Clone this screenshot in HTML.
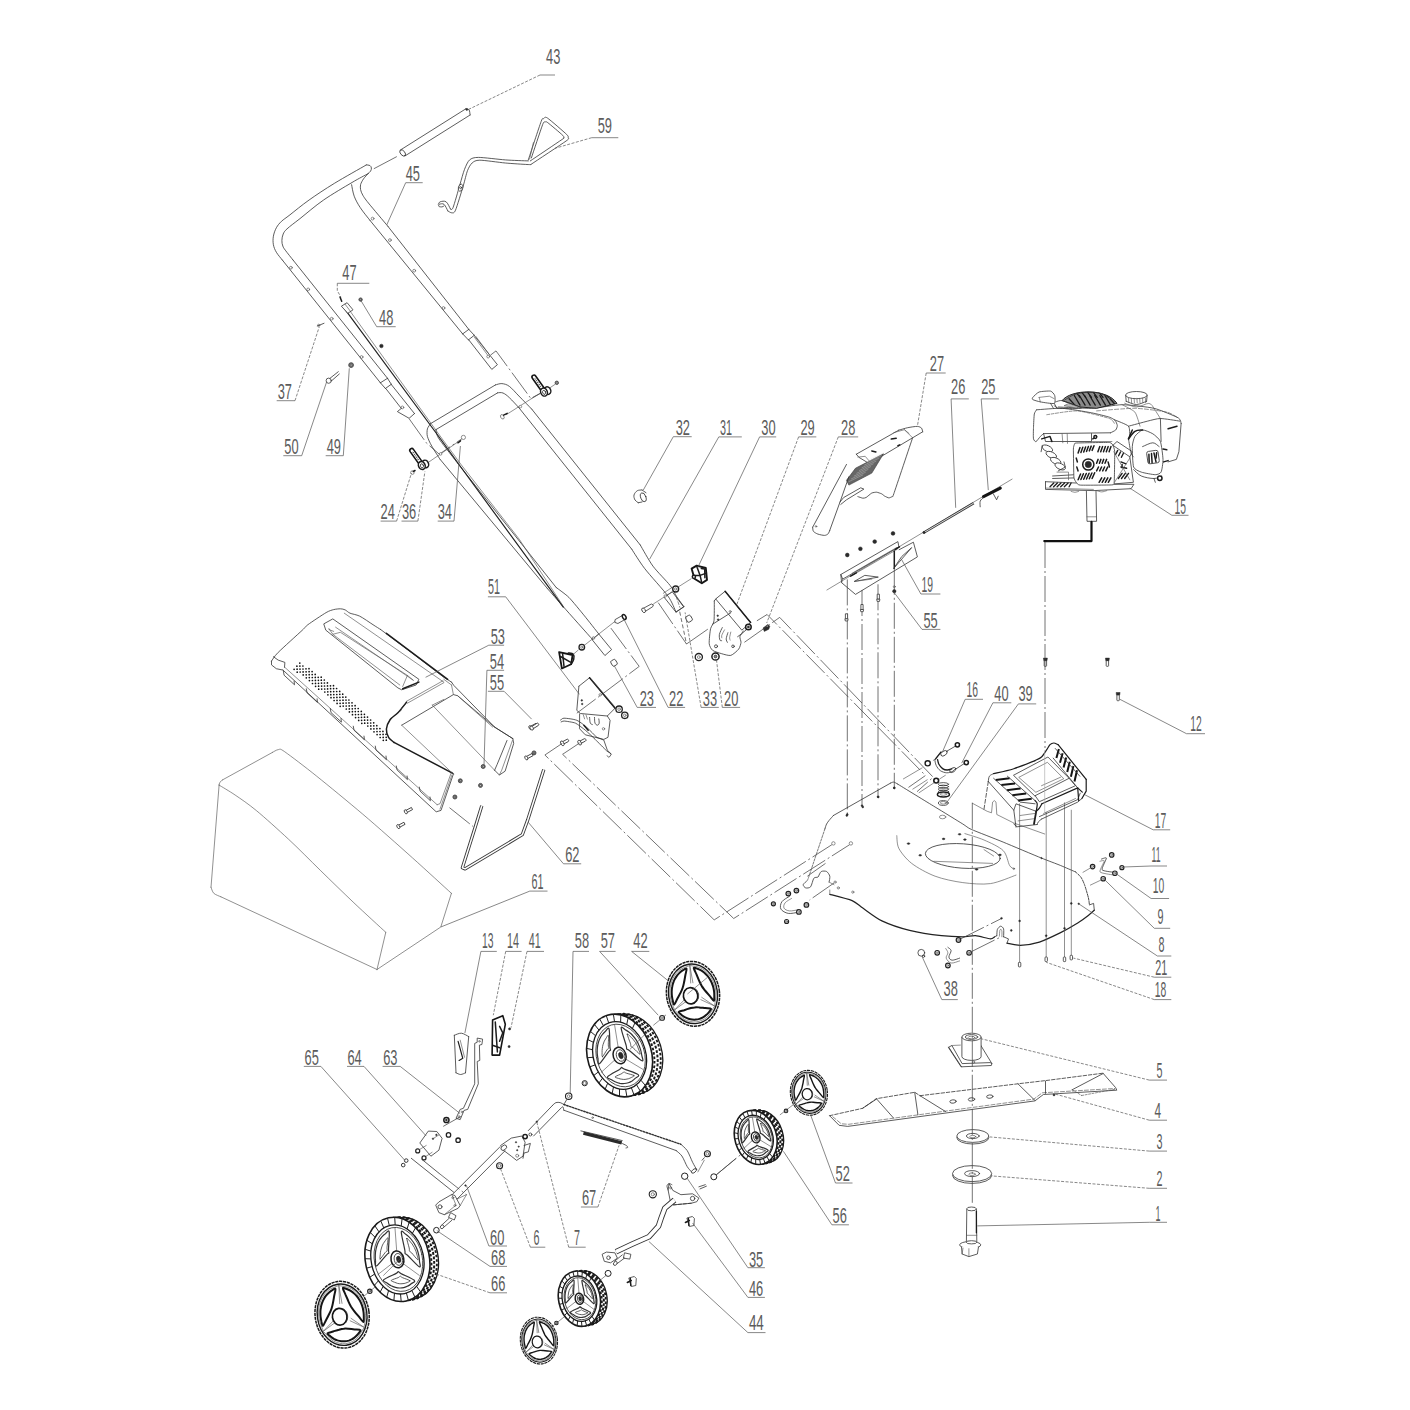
<!DOCTYPE html>
<html><head><meta charset="utf-8"><title>Exploded view</title>
<style>
html,body{margin:0;padding:0;background:#fff;}
svg{display:block;font-family:"Liberation Sans",sans-serif;}
.l{fill:none;stroke:#333;stroke-width:.8;stroke-linecap:round;stroke-linejoin:round}
.t{fill:none;stroke:#555;stroke-width:.65;stroke-linecap:round;stroke-linejoin:round}
.k{fill:none;stroke:#1c1c1c;stroke-width:1.5;stroke-linecap:round;stroke-linejoin:round}
.d{fill:none;stroke:#444;stroke-width:.75;stroke-dasharray:26 3 2 3}
.ld{fill:none;stroke:#555;stroke-width:.7}
.w{fill:#fff;stroke:#333;stroke-width:.8;stroke-linejoin:round}
.wt{fill:#fff;stroke:#555;stroke-width:.65;stroke-linejoin:round}
.wk{fill:#fff;stroke:#1c1c1c;stroke-width:1.5;stroke-linejoin:round}
.f{fill:#2a2a2a;stroke:#2a2a2a;stroke-width:.5;stroke-linejoin:round}
.g{fill:#888;stroke:#333;stroke-width:.8}
.n{fill:#5c5c5c;stroke:none;font-size:22px;font-family:"Liberation Sans",sans-serif}
</style></head><body>
<svg width="1410" height="1410" viewBox="0 0 1410 1410">
<rect width="1410" height="1410" fill="#fff"/>
<!-- upper handle 45 -->
<path class="l" d="M368,173.7 C367.3,174.5 364.6,177.3 363.5,178.9 C362.4,180.5 361,183 360.6,184.6 C360.2,186.2 360.3,188 360.6,189.6 C360.9,191.2 361.6,193.2 362.8,195.2 C364,197.2 364.6,198.3 368.4,203 C372.2,207.7 385,222.8 387.9,226.3"/>
<path class="l" d="M387.9,226.3 L468.8,329.4"/>
<path class="l" d="M351.6,184.7 C352,186.6 352.8,192.4 354.2,196.2 C355.6,200 357.7,203.7 360.3,207.7 C362.9,211.7 368.4,218.3 370,220.4"/>
<path class="l" d="M370,220.4 L462.7,333.9"/>
<path class="l" d="M462.7,333.9 L468.8,329.4"/>
<path class="l" d="M468.4,339.9 L474.3,335.3"/>
<path class="l" d="M462.7,333.9 L468.4,339.9"/>
<path class="l" d="M468.8,329.4 L474.3,335.3"/>
<path class="l" d="M468.8,339.9 L491.8,369.4 L497.4,364.7 L474.3,335.6"/>
<path class="t" d="M474.5,337.4 L487.5,354.9"/>
<path class="t" d="M475.9,336.5 L488.9,354"/>
<circle class="t" cx="488.2" cy="356.6" r="1.4"/>
<path class="d" d="M490.4,355.2 L496,350.9 L530.8,398.4 L540,393.5"/>
<circle class="t" cx="372.6" cy="218.6" r="1.4"/>
<circle class="t" cx="389.9" cy="240.1" r="1.4"/>
<circle class="t" cx="414.2" cy="270.7" r="1.4"/>
<circle class="t" cx="443.5" cy="308" r="1.4"/>
<path class="l" d="M366.2,165 C360.9,168.1 343.8,177.6 334.3,183.4 C324.8,189.2 316.5,194.8 309.1,200 C301.7,205.2 294.6,211.2 290,214.8 C285.4,218.4 283.8,219.2 281.5,221.3 C279.2,223.5 277.8,225.2 276.4,227.7 C275,230.2 273.9,233.4 273.4,236.2 C272.9,239 272.9,242 273.4,244.7 C273.9,247.4 274.9,249.8 276.4,252.3 C277.9,254.9 281.3,258.7 282.3,260"/>
<path class="l" d="M282.3,260 L380.4,382.8"/>
<path class="l" d="M368,173.7 C365.3,175.2 359.4,178.1 352,182.5 C344.6,186.9 332.3,194 323.6,200 C314.9,206 306.1,213.8 300,218.6 C293.9,223.4 289.8,226.3 287,228.9 C284.2,231.5 284.1,232.1 283.2,234 C282.3,235.9 282,238.4 281.9,240.4 C281.8,242.4 282.2,244.4 282.8,246 C283.4,247.6 283.6,247.9 285.3,250.2 C287,252.5 291.7,258.4 293,260"/>
<path class="l" d="M293,260 L387.5,378.3"/>
<path class="l" d="M366.3,164.9 C366.9,165 369,165 369.9,165.5 C370.8,166 371.3,167.1 371.4,168 C371.5,168.9 371.2,170.2 370.6,171.1 C370,172 368.4,173.3 368,173.7"/>
<path class="l" d="M380.4,382.8 L387.5,378.3"/>
<path class="l" d="M385.4,388.5 L391.3,384.3"/>
<path class="l" d="M380.4,382.8 L385.4,388.5"/>
<path class="l" d="M387.5,378.3 L391.3,384.3"/>
<path class="l" d="M386,388.8 L401.3,408.4"/>
<path class="l" d="M391.3,384.5 L414.5,413.6"/>
<path class="l" d="M401.3,408.4 L397.4,411.6 L409.1,418.3 L414.5,413.6"/>
<circle class="t" cx="402.4" cy="407.4" r="1.4"/>
<path class="d" d="M409.1,418.7 L426.5,443.1 L439.3,454.2 L463.4,437.7"/>
<circle class="t" cx="290.9" cy="267.7" r="1.4"/>
<circle class="t" cx="308.2" cy="289.4" r="1.4"/>
<circle class="t" cx="331.7" cy="318.7" r="1.4"/>
<circle class="t" cx="361.6" cy="357" r="1.4"/>
<!-- grip 43 -->
<path class="l" d="M400.1,150.2 L465.7,108.9"/>
<path class="l" d="M405.2,155.8 L470.1,115"/>
<ellipse class="l" cx="402.7" cy="153" rx="3.6" ry="2.2" transform="rotate(50 402.7 153)"/>
<path class="l" d="M465.7,108.9 C466.3,109.1 468.4,108.9 469.1,109.9 C469.8,110.9 469.9,114.2 470.1,115"/>
<circle class="f" cx="466.8" cy="109.4" r="1"/>
<path class="d" d="M396.8,156.6 L372.6,169.4"/>
<!-- bail 59 -->
<path class="l" d="M528.3,159.9 C529.8,155.4 539.3,126.4 541.1,121.6 C542.9,116.8 542.9,119 543.6,118.6 C544.3,118.2 544.7,116.2 547.4,118 C550.1,119.8 564.2,132.1 566.6,134.4 C569,136.7 568.2,137.2 568.1,138 C568,138.8 570.5,137.9 566.1,141 C561.7,144.1 534.9,161.8 530.8,164.5"/>
<path class="l" d="M531.4,157.9 C532.7,154 541,128.9 542.6,124.7 C544.2,120.5 544.5,122.3 545.1,122.1 C545.7,121.9 545.6,121 547.7,122.6 C549.8,124.2 561,133.6 562.8,135.4 C564.6,137.2 563.6,137.5 563.5,138 C563.4,138.5 565.9,136.8 562,139.5 C558.1,142.2 534,158.4 530.3,160.9"/>
<path class="l" d="M530.8,164.5 C530.3,164.5 530.4,164.7 527,164.5 C523.6,164.3 511.6,163.6 505.3,163 C499,162.4 484.2,160.2 479.8,160.2 C475.4,160.2 473.7,161.6 472.1,163 C470.5,164.4 468.7,167.5 467.5,170.6 C466.3,173.7 464.8,180.7 463.2,186 C461.6,191.3 457,206.6 455.5,210.2 C454,213.8 452.7,212.7 451.7,212.8 C450.7,212.9 448.4,211.2 447.9,211"/>
<path class="l" d="M528.3,160.9 C525.2,160.8 511.9,160.4 505.3,159.9 C498.7,159.4 483.3,157.4 478.5,157.4 C473.7,157.4 471.5,158.3 469.6,159.9 C467.7,161.5 465.8,166.1 464.5,169.4 C463.2,172.7 461.4,179.6 459.9,184.7 C458.4,189.8 454.3,204.5 453,207.7 C451.7,210.9 450.7,208.7 450.4,208.9"/>
<path class="l" d="M447.9,211 C447.2,209.9 445.4,205.4 444,204.3 C442.6,203.2 440.2,204 439.4,204.3 C438.5,204.7 438.5,206 438.9,206.4 C439.3,206.8 441.1,207 442,206.9 C442.9,206.8 443.7,206.1 444,205.9"/>
<path class="l" d="M450.4,208.9 C449.7,207.7 447.8,203 446.1,201.8 C444.4,200.6 441.5,201.4 440.2,201.8 C438.9,202.2 438.7,203.9 438.4,204.3"/>
<ellipse class="w" cx="460.6" cy="187.7" rx="2.2" ry="3.6" transform="rotate(15 460.6 187.7)"/>
<circle class="l" cx="460.6" cy="187.7" r="1"/>
<path class="t" d="M533.4,142.6 L529.6,159.1"/>
<!-- lower handle 31 -->
<path class="l" d="M430.6,423.6 L495.5,384.9"/>
<path class="l" d="M495.5,384.9 C496.6,384.7 499.6,383.4 501.9,383.6 C504.2,383.9 506.6,384.3 509.4,386.4 C512.2,388.5 515.2,392.2 518.9,396 C522.6,399.8 529.6,406.9 531.7,409.1"/>
<path class="l" d="M531.7,409.1 L640.2,544.9"/>
<path class="l" d="M640.2,544.9 C641.9,547.7 649,560.8 653,566.2 C657,571.6 666.8,581.2 670,585.3 C673.2,589.4 674.8,593.8 676.7,596.7 C678.6,599.6 683,605.4 684,606.7"/>
<path class="l" d="M436,429.6 L497.7,392.8"/>
<path class="l" d="M497.7,392.8 C498.6,392.8 501.1,392.2 503,393 C504.9,393.8 506.8,395.2 509.4,397.7 C512,400.1 517.3,406 518.9,407.7"/>
<path class="l" d="M518.9,407.7 L631.7,549.1"/>
<path class="l" d="M631.7,549.1 C633.4,551.7 639.7,562 644.5,568.3 C649.3,574.6 663.7,590.2 667.9,596 C672.1,601.8 674.9,609.9 676,612"/>
<path class="l" d="M684,606.7 L676,612"/>
<path class="t" d="M663.3,593.3 L670.7,588.3"/>
<path class="l" d="M430.6,423.6 C430.2,424.3 427.8,427.2 427.4,428.9 C427,430.6 426.8,434.1 427.4,436.4 C428,438.7 430,443 431.7,446 C433.4,449 438.8,457.4 439.9,459.1"/>
<path class="l" d="M436,429.6 C436.1,430.2 436.2,432.8 436.8,434.3 C437.4,435.8 437.3,436.6 440.2,440.6 C443.1,444.6 455.9,461 458.3,464.1"/>
<path class="l" d="M439.9,459.1 L547.7,588.9"/>
<path class="l" d="M547.7,588.9 C549.3,590.7 558.8,601.7 563.3,606.7 C567.8,611.8 589.5,636.1 592.4,639.4"/>
<path class="l" d="M458.3,464.1 L556.2,587.5"/>
<path class="l" d="M556.2,587.5 C557.5,588.5 566.1,594.6 568.9,597.4 C571.7,600.2 581.5,612.2 584.5,615.9 C587.5,619.6 597.4,632.2 598.8,634"/>
<path class="l" d="M592.4,639.4 L598.8,634 L611.6,649.6 L605.2,655.3Z"/>
<path class="l" d="M345,309.3 L441.3,440 L459.7,465.5 L563.3,607.1" style="stroke-width:1.2;stroke:#222"/>
<path class="t" d="M347.3,307.3 L443,440 L461.4,465 L519.3,539.3 L562.6,605.2"/>
<!-- handle small parts -->
<g transform="translate(421.8 465.5)">
<path d="M-10,-15 L-1.5,-3" stroke="#151515" stroke-width="5.6" stroke-linecap="round" fill="none"/>
<path d="M-10,-15 L-2.5,-4.5" stroke="#fff" stroke-width="2.4" stroke-linecap="round" fill="none"/>
<path d="M-9,-13.6 L-3,-5" stroke="#151515" stroke-width="1" stroke-dasharray="1.2 1" fill="none"/>
<ellipse cx="3.5" cy="-1.5" rx="3.2" ry="3.9" transform="rotate(-25 3.5 -1.5)" class="wk"/>
<ellipse cx="0" cy="0" rx="3.3" ry="4.1" transform="rotate(-25)" class="wk"/>
<ellipse cx="0" cy="0.3" rx="1.5" ry="2.1" transform="rotate(-25)" class="l"/>
</g>
<path class="t" d="M429.2,461.8 L457,442.6"/>
<circle class="wt" cx="440.6" cy="453.9" r="1.3"/>
<circle class="wt" cx="463.4" cy="437.4" r="2.1"/>
<path class="k" d="M460.5,440.8 L457.9,442.8"/>
<circle class="wt" cx="412.4" cy="472.6" r="1.8"/>
<path class="k" d="M413.3,471.5 L415,470.5"/>
<g transform="translate(544 392.1)">
<path d="M-10,-15 L-1.5,-3" stroke="#151515" stroke-width="5.6" stroke-linecap="round" fill="none"/>
<path d="M-10,-15 L-2.5,-4.5" stroke="#fff" stroke-width="2.4" stroke-linecap="round" fill="none"/>
<path d="M-9,-13.6 L-3,-5" stroke="#151515" stroke-width="1" stroke-dasharray="1.2 1" fill="none"/>
<ellipse cx="3.5" cy="-1.5" rx="3.2" ry="3.9" transform="rotate(-25 3.5 -1.5)" class="wk"/>
<ellipse cx="0" cy="0" rx="3.3" ry="4.1" transform="rotate(-25)" class="wk"/>
<ellipse cx="0" cy="0.3" rx="1.5" ry="2.1" transform="rotate(-25)" class="l"/>
</g>
<path class="t" d="M549.8,387.9 L555.1,384.3"/>
<circle class="g" cx="556.8" cy="382.8" r="1.7"/>
<path class="d" d="M531.7,398.5 L540.2,393.4"/>
<path class="t" d="M506.2,414.7 L531.7,398.5"/>
<circle class="wt" cx="520.4" cy="406.6" r="1.3"/>
<ellipse class="wt" cx="502.3" cy="416.8" rx="1.6" ry="2.4" transform="rotate(-30 502.3 416.8)"/>
<path class="k" d="M503.6,415.1 L507.2,413.4"/>
<path class="w" d="M341.4,306.2 L347.1,302.7 L353,309.8 L347.8,313.3Z"/>
<path class="t" d="M345,304.1 L350.6,311.5"/>
<path class="k" d="M340,297 L341.7,301.3"/>
<circle class="g" cx="360.6" cy="299.6" r="1.7"/>
<circle class="w" cx="360.6" cy="299.6" r="0.8"/>
<circle class="f" cx="381.4" cy="346" r="1.8"/>
<circle class="g" cx="351.1" cy="365.1" r="2.4"/>
<circle class="w" cx="351.1" cy="365.1" r="1.1"/>
<path class="l" d="M317.3,326 L324,323.3"/>
<circle class="t" cx="318.7" cy="325.3" r="1.1"/>
<circle class="l" cx="328.7" cy="380.7" r="2.6"/>
<path class="l" d="M330,378.3 L338.3,371.7"/>
<path class="l" d="M331.7,380.7 L339.3,374"/>
<path class="l" d="M642,490 C641.2,490.1 638.6,489.9 637.3,490.7 C636,491.5 634.4,493.4 634,495 C633.6,496.6 634.3,498.7 635,500 C635.7,501.3 637.8,502.2 638.3,502.7"/>
<ellipse class="l" cx="643.3" cy="497.3" rx="2.6" ry="4.6" transform="rotate(-20 643.3 497.3)"/>
<path class="l" d="M642,490 L646,492.7"/>
<path class="l" d="M638.3,502.7 L642,502"/>
<!-- labels handle -->
<text class="n" x="546" y="64" textLength="14.3" lengthAdjust="spacingAndGlyphs">43</text>
<path class="ld" d="M540,75 H555"/>
<path class="ld" d="M540,75 L467.3,110" stroke-dasharray="3 1.5"/>
<text class="n" x="597.7" y="132.7" textLength="14.3" lengthAdjust="spacingAndGlyphs">59</text>
<path class="ld" d="M591.7,137.7 H618.3"/>
<path class="ld" d="M591.7,137.7 L555,148.3" stroke-dasharray="3 1.5"/>
<text class="n" x="405.7" y="181" textLength="14.3" lengthAdjust="spacingAndGlyphs">45</text>
<path class="ld" d="M405.7,182.7 H422.7"/>
<path class="ld" d="M405.7,182.7 L386.7,225"/>
<text class="n" x="342.3" y="280" textLength="14.3" lengthAdjust="spacingAndGlyphs">47</text>
<path class="ld" d="M337.3,283.3 H369.3"/>
<path class="ld" d="M337.3,283.3 L337.3,290.7 L341,297.3" stroke-dasharray="3 1.5"/>
<text class="n" x="379" y="325" textLength="14.3" lengthAdjust="spacingAndGlyphs">48</text>
<path class="ld" d="M376.7,326.7 H395.7"/>
<path class="ld" d="M376.7,326.7 L361,300.7"/>
<text class="n" x="277.7" y="399.3" textLength="14.3" lengthAdjust="spacingAndGlyphs">37</text>
<path class="ld" d="M276.7,400.7 H295"/>
<path class="ld" d="M295,400.7 L319.3,326.7" stroke-dasharray="3 1.5"/>
<text class="n" x="284.3" y="454" textLength="14.3" lengthAdjust="spacingAndGlyphs">50</text>
<path class="ld" d="M283.3,455.7 H301.7"/>
<path class="ld" d="M301.7,455.7 L326.7,381.7"/>
<text class="n" x="326.7" y="454" textLength="14.3" lengthAdjust="spacingAndGlyphs">49</text>
<path class="ld" d="M325.7,455.7 H343.3"/>
<path class="ld" d="M343.3,455.7 L349.3,368.3"/>
<text class="n" x="675.7" y="435" textLength="14.3" lengthAdjust="spacingAndGlyphs">32</text>
<path class="ld" d="M673.3,436.7 H691.7"/>
<path class="ld" d="M673.3,436.7 L643.3,490"/>
<text class="n" x="380.6" y="518.9" textLength="14.3" lengthAdjust="spacingAndGlyphs">24</text>
<path class="ld" d="M380.6,521.1 H396.6"/>
<path class="ld" d="M396.6,521.1 L411.5,473" stroke-dasharray="3 1.5"/>
<text class="n" x="401.9" y="518.9" textLength="14.3" lengthAdjust="spacingAndGlyphs">36</text>
<path class="ld" d="M401.5,521.1 H417.9"/>
<path class="ld" d="M417.9,521.1 L424.9,471.5" stroke-dasharray="3 1.5"/>
<text class="n" x="437.7" y="518.9" textLength="14.3" lengthAdjust="spacingAndGlyphs">34</text>
<path class="ld" d="M437.7,521.1 H454"/>
<path class="ld" d="M454,521.1 L460.4,446"/>
<!-- bag 61 -->
<path class="t" d="M219.1,785.1 C219.2,784.6 219.3,783.2 219.9,782.3 C220.5,781.4 222.2,780.2 222.7,779.8"/>
<path class="t" d="M222.7,779.8 L272.3,752.5"/>
<path class="t" d="M272.3,752.5 C273.2,752.1 276.5,749.7 278.4,749.6 C280.3,749.5 279.1,747.8 284.8,751.8 C290.5,755.8 305,766.8 316.7,776.2 C328.4,785.6 348.4,802 362.8,814.2 C377.2,826.4 399.1,845.9 412.4,857.8 C425.7,869.7 445.5,888 451.4,893.3"/>
<path class="t" d="M451.4,893.3 L440.8,927 L377,969.5"/>
<path class="t" d="M377,969.5 L220.9,896.8"/>
<path class="t" d="M220.9,896.8 C219.7,896.2 215.5,894.9 213.8,893.3 C212.2,891.7 211.5,888.2 211,887.2"/>
<path class="t" d="M211,887.2 L219.1,785.1"/>
<path class="t" d="M219.1,785.1 C221.5,786.6 229.5,791.2 235.1,795 C240.7,798.8 248.4,804 256.4,810.6 C264.4,817.2 278.7,830.1 288.3,839 C297.9,847.9 310.4,860.6 320.2,870.2 C330,879.8 344.1,893.5 353.9,902.8 C363.7,912.1 381,927.9 385.8,932.3"/>
<path class="t" d="M385.8,932.3 L377,969.5"/>
<!-- cover 53 -->
<path class="l" d="M271.5,661.1 C272.4,659.9 274.1,656.5 278.2,652.4 C282.3,648.3 298.1,634.1 302.1,630.4 C306.1,626.7 304.7,627.1 307.9,624.7 C311.1,622.3 322.7,614.6 326.1,612.6 C329.5,610.6 331.8,610.1 333.7,609.6 C335.6,609.1 338.9,608.8 340.4,608.8 C341.9,608.8 343.9,609.3 345.2,609.9 C346.5,610.5 348.1,612.4 350,613.2 C351.9,614 356.5,614.6 359.6,616.1 C362.7,617.6 370.2,622.9 373,624.7 C375.8,626.5 379.6,628.9 380.6,629.5"/>
<path class="l" d="M380.6,629.5 L411.3,652.4 L443.8,677.3 L451.5,682.1"/>
<path class="l" d="M451.5,682.1 L453.8,685.4 L494.6,727.1 L512.8,738.6"/>
<path class="l" d="M512.8,738.6 L513.7,743.4 L505.1,771.2 L499.4,775 L494.6,770.2"/>
<path class="t" d="M499.4,775 L501.7,770.2 L512.4,740.5"/>
<path class="l" d="M494.6,770.2 L497.1,764.5 L507,740.5"/>
<path class="l" d="M271.5,661.1 L271.5,664.9 L276.3,668.7 L283,670.1"/>
<path class="l" d="M273.4,656.7 L278.2,660.1 L284.9,662.4 L284.5,667.4"/>
<path class="l" d="M283,670.1 L436.2,811.8 L441,810.4 L453.4,774"/>
<path class="t" d="M284.9,667.4 L437.1,804.7"/>
<path class="t" d="M437.1,804.7 L440,803.7 L451.5,772.1"/>
<path class="t" d="M440,809.1 L451.9,775"/>
<path class="l" d="M283.4,671.2 L284.1,675.2 L294.5,684.8 L294.1,681.2"/>
<path class="l" d="M306.3,688.8 L307.1,692.9 L317.4,702.4 L317.1,698.8"/>
<path class="l" d="M330.3,708.6 L331,712.6 L341.4,722.1 L341,718.5"/>
<path class="l" d="M353.3,726.2 L354,730.2 L364.4,739.8 L364,736.1"/>
<path class="l" d="M375.3,746.1 L376,750.1 L386.4,759.7 L386,756"/>
<path class="l" d="M396.3,766 L397.1,770 L407.4,779.6 L407.1,776"/>
<path class="l" d="M419.3,787.1 L420.1,791.1 L430.4,800.7 L430,797"/>
<path class="l" d="M324.1,623.7 L332.8,618.9 L418.9,679.3 L416.1,685 L401.7,689.8 L397.9,687.9 L326.1,630.4Z"/>
<path class="t" d="M328.9,628.5 L332.8,634.3 L340.4,632.3 L407.4,675.4 L402.7,686.5"/>
<path class="t" d="M335.6,627.2 L413.2,680.2"/>
<path class="t" d="M332.8,634.3 L399.8,685"/>
<path class="t" d="M407.4,675.4 L413.2,680.2"/>
<path class="t" d="M328.9,629.5 L333.7,631.4"/>
<path class="k" d="M402.7,688.8 L418.9,682.1"/>
<path class="t" d="M344.3,613.2 L443.8,682.1"/>
<path class="k" d="M386.4,633.3 L447.7,679.3"/>
<path class="t" d="M406.5,701.3 L442.9,680.8"/>
<path class="t" d="M407.4,703.2 L443.8,682.7"/>
<path class="t" d="M443.8,679.3 L451.5,685"/>
<path class="k" d="M452.4,773.1 L394,742.4"/>
<path class="k" d="M394,742.4 C393.3,741.8 389.7,739.5 388.7,737.7 C387.7,735.9 386.2,731.4 386.4,729 C386.6,726.6 388.7,721.7 390.2,719.5 C391.7,717.3 395.7,715.1 397.9,712.8 C400.1,710.5 405.4,703.6 406.5,702.2"/>
<path class="l" d="M405.5,704.1 C404.9,704.8 402.5,706.9 401.7,708 C400.9,709.1 400.9,710.4 400.7,710.9"/>
<path class="l" d="M401.7,725.2 L453.4,694.6 L457.6,695.7 L494.6,727.1"/>
<path class="t" d="M401.7,725.2 L451.9,772.7"/>
<path class="l" d="M452.4,773.1 L453.8,774"/>
<path class="t" d="M453.4,694.6 L451.5,685"/>
<path class="l" d="M494.6,727.1 L512.8,738.6"/>
<path class="t" d="M432.3,705.1 L494.6,770.2"/>
<path class="t" d="M432.3,705.1 L443.8,699.4"/>
<path class="t" d="M457.6,695.7 L492.7,727.1"/>
<circle cx="294.1" cy="669.3" r=".85" fill="#111"/>
<circle cx="297.2" cy="672.2" r=".85" fill="#111"/>
<circle cx="297.1" cy="669.2" r=".85" fill="#111"/>
<circle cx="300.2" cy="672" r=".85" fill="#111"/>
<circle cx="303.2" cy="674.9" r=".85" fill="#111"/>
<circle cx="306.3" cy="677.8" r=".85" fill="#111"/>
<circle cx="309.4" cy="680.6" r=".85" fill="#111"/>
<circle cx="312.5" cy="683.5" r=".85" fill="#111"/>
<circle cx="315.6" cy="686.3" r=".85" fill="#111"/>
<circle cx="318.7" cy="689.2" r=".85" fill="#111"/>
<circle cx="296.9" cy="666.2" r=".85" fill="#111"/>
<circle cx="300" cy="669.1" r=".85" fill="#111"/>
<circle cx="303.1" cy="671.9" r=".85" fill="#111"/>
<circle cx="306.2" cy="674.8" r=".85" fill="#111"/>
<circle cx="309.3" cy="677.6" r=".85" fill="#111"/>
<circle cx="312.4" cy="680.5" r=".85" fill="#111"/>
<circle cx="315.5" cy="683.4" r=".85" fill="#111"/>
<circle cx="318.6" cy="686.2" r=".85" fill="#111"/>
<circle cx="321.7" cy="689.1" r=".85" fill="#111"/>
<circle cx="324.8" cy="692" r=".85" fill="#111"/>
<circle cx="327.9" cy="694.8" r=".85" fill="#111"/>
<circle cx="331" cy="697.7" r=".85" fill="#111"/>
<circle cx="334.1" cy="700.5" r=".85" fill="#111"/>
<circle cx="337.1" cy="703.4" r=".85" fill="#111"/>
<circle cx="340.2" cy="706.3" r=".85" fill="#111"/>
<circle cx="299.9" cy="666.1" r=".85" fill="#111"/>
<circle cx="303" cy="669" r=".85" fill="#111"/>
<circle cx="306.1" cy="671.8" r=".85" fill="#111"/>
<circle cx="309.2" cy="674.7" r=".85" fill="#111"/>
<circle cx="312.3" cy="677.5" r=".85" fill="#111"/>
<circle cx="315.4" cy="680.4" r=".85" fill="#111"/>
<circle cx="318.5" cy="683.3" r=".85" fill="#111"/>
<circle cx="321.6" cy="686.1" r=".85" fill="#111"/>
<circle cx="324.7" cy="689" r=".85" fill="#111"/>
<circle cx="327.8" cy="691.8" r=".85" fill="#111"/>
<circle cx="330.8" cy="694.7" r=".85" fill="#111"/>
<circle cx="333.9" cy="697.6" r=".85" fill="#111"/>
<circle cx="337" cy="700.4" r=".85" fill="#111"/>
<circle cx="340.1" cy="703.3" r=".85" fill="#111"/>
<circle cx="343.2" cy="706.1" r=".85" fill="#111"/>
<circle cx="346.3" cy="709" r=".85" fill="#111"/>
<circle cx="349.4" cy="711.9" r=".85" fill="#111"/>
<circle cx="352.5" cy="714.7" r=".85" fill="#111"/>
<circle cx="355.6" cy="717.6" r=".85" fill="#111"/>
<circle cx="358.7" cy="720.4" r=".85" fill="#111"/>
<circle cx="361.8" cy="723.3" r=".85" fill="#111"/>
<circle cx="299.8" cy="663.1" r=".85" fill="#111"/>
<circle cx="302.9" cy="666" r=".85" fill="#111"/>
<circle cx="306" cy="668.8" r=".85" fill="#111"/>
<circle cx="309.1" cy="671.7" r=".85" fill="#111"/>
<circle cx="312.2" cy="674.6" r=".85" fill="#111"/>
<circle cx="315.3" cy="677.4" r=".85" fill="#111"/>
<circle cx="318.4" cy="680.3" r=".85" fill="#111"/>
<circle cx="321.5" cy="683.1" r=".85" fill="#111"/>
<circle cx="324.5" cy="686" r=".85" fill="#111"/>
<circle cx="327.6" cy="688.9" r=".85" fill="#111"/>
<circle cx="330.7" cy="691.7" r=".85" fill="#111"/>
<circle cx="333.8" cy="694.6" r=".85" fill="#111"/>
<circle cx="336.9" cy="697.4" r=".85" fill="#111"/>
<circle cx="340" cy="700.3" r=".85" fill="#111"/>
<circle cx="343.1" cy="703.2" r=".85" fill="#111"/>
<circle cx="346.2" cy="706" r=".85" fill="#111"/>
<circle cx="349.3" cy="708.9" r=".85" fill="#111"/>
<circle cx="352.4" cy="711.7" r=".85" fill="#111"/>
<circle cx="355.5" cy="714.6" r=".85" fill="#111"/>
<circle cx="358.6" cy="717.5" r=".85" fill="#111"/>
<circle cx="361.6" cy="720.3" r=".85" fill="#111"/>
<circle cx="364.7" cy="723.2" r=".85" fill="#111"/>
<circle cx="367.8" cy="726" r=".85" fill="#111"/>
<circle cx="370.9" cy="728.9" r=".85" fill="#111"/>
<circle cx="374" cy="731.8" r=".85" fill="#111"/>
<circle cx="377.1" cy="734.6" r=".85" fill="#111"/>
<circle cx="380.2" cy="737.5" r=".85" fill="#111"/>
<circle cx="383.3" cy="740.3" r=".85" fill="#111"/>
<circle cx="309" cy="668.7" r=".85" fill="#111"/>
<circle cx="312.1" cy="671.6" r=".85" fill="#111"/>
<circle cx="315.2" cy="674.4" r=".85" fill="#111"/>
<circle cx="318.2" cy="677.3" r=".85" fill="#111"/>
<circle cx="321.3" cy="680.2" r=".85" fill="#111"/>
<circle cx="324.4" cy="683" r=".85" fill="#111"/>
<circle cx="327.5" cy="685.9" r=".85" fill="#111"/>
<circle cx="330.6" cy="688.7" r=".85" fill="#111"/>
<circle cx="333.7" cy="691.6" r=".85" fill="#111"/>
<circle cx="336.8" cy="694.5" r=".85" fill="#111"/>
<circle cx="339.9" cy="697.3" r=".85" fill="#111"/>
<circle cx="343" cy="700.2" r=".85" fill="#111"/>
<circle cx="346.1" cy="703" r=".85" fill="#111"/>
<circle cx="349.2" cy="705.9" r=".85" fill="#111"/>
<circle cx="352.3" cy="708.8" r=".85" fill="#111"/>
<circle cx="355.3" cy="711.6" r=".85" fill="#111"/>
<circle cx="358.4" cy="714.5" r=".85" fill="#111"/>
<circle cx="361.5" cy="717.3" r=".85" fill="#111"/>
<circle cx="364.6" cy="720.2" r=".85" fill="#111"/>
<circle cx="367.7" cy="723.1" r=".85" fill="#111"/>
<circle cx="370.8" cy="725.9" r=".85" fill="#111"/>
<circle cx="373.9" cy="728.8" r=".85" fill="#111"/>
<circle cx="377" cy="731.6" r=".85" fill="#111"/>
<circle cx="380.1" cy="734.5" r=".85" fill="#111"/>
<circle cx="383.2" cy="737.4" r=".85" fill="#111"/>
<circle cx="386.3" cy="740.2" r=".85" fill="#111"/>
<circle cx="321.2" cy="677.2" r=".85" fill="#111"/>
<circle cx="324.3" cy="680" r=".85" fill="#111"/>
<circle cx="327.4" cy="682.9" r=".85" fill="#111"/>
<circle cx="330.5" cy="685.8" r=".85" fill="#111"/>
<circle cx="333.6" cy="688.6" r=".85" fill="#111"/>
<circle cx="336.7" cy="691.5" r=".85" fill="#111"/>
<circle cx="339.8" cy="694.3" r=".85" fill="#111"/>
<circle cx="342.9" cy="697.2" r=".85" fill="#111"/>
<circle cx="346" cy="700.1" r=".85" fill="#111"/>
<circle cx="349" cy="702.9" r=".85" fill="#111"/>
<circle cx="352.1" cy="705.8" r=".85" fill="#111"/>
<circle cx="355.2" cy="708.6" r=".85" fill="#111"/>
<circle cx="358.3" cy="711.5" r=".85" fill="#111"/>
<circle cx="361.4" cy="714.4" r=".85" fill="#111"/>
<circle cx="364.5" cy="717.2" r=".85" fill="#111"/>
<circle cx="367.6" cy="720.1" r=".85" fill="#111"/>
<circle cx="370.7" cy="723" r=".85" fill="#111"/>
<circle cx="373.8" cy="725.8" r=".85" fill="#111"/>
<circle cx="376.9" cy="728.7" r=".85" fill="#111"/>
<circle cx="380" cy="731.5" r=".85" fill="#111"/>
<circle cx="383.1" cy="734.4" r=".85" fill="#111"/>
<circle cx="386.2" cy="737.3" r=".85" fill="#111"/>
<circle cx="333.5" cy="685.7" r=".85" fill="#111"/>
<circle cx="336.6" cy="688.5" r=".85" fill="#111"/>
<circle cx="339.7" cy="691.4" r=".85" fill="#111"/>
<circle cx="342.7" cy="694.2" r=".85" fill="#111"/>
<circle cx="345.8" cy="697.1" r=".85" fill="#111"/>
<circle cx="348.9" cy="700" r=".85" fill="#111"/>
<circle cx="352" cy="702.8" r=".85" fill="#111"/>
<circle cx="355.1" cy="705.7" r=".85" fill="#111"/>
<circle cx="358.2" cy="708.5" r=".85" fill="#111"/>
<circle cx="361.3" cy="711.4" r=".85" fill="#111"/>
<circle cx="364.4" cy="714.3" r=".85" fill="#111"/>
<circle cx="367.5" cy="717.1" r=".85" fill="#111"/>
<circle cx="370.6" cy="720" r=".85" fill="#111"/>
<circle cx="373.7" cy="722.8" r=".85" fill="#111"/>
<circle cx="376.8" cy="725.7" r=".85" fill="#111"/>
<circle cx="379.9" cy="728.6" r=".85" fill="#111"/>
<circle cx="382.9" cy="731.4" r=".85" fill="#111"/>
<circle cx="386" cy="734.3" r=".85" fill="#111"/>
<!-- frame 62 -->
<path d="M481.8,805.8 L475.4,826.6 L462.4,867.8 L465.1,868.9 L522.3,834.7 L527.7,819.9 L543.8,769.5" fill="none" stroke="#3a3a3a" stroke-width="3.3" stroke-linejoin="round" stroke-linecap="butt"/>
<path d="M481.8,805.8 L475.4,826.6 L462.4,867.8 L465.1,868.9 L522.3,834.7 L527.7,819.9 L543.8,769.5" fill="none" stroke="#fff" stroke-width="1.5" stroke-linejoin="round" stroke-linecap="butt"/>
<path class="d" d="M449.5,807.7 L473.2,826.6"/>
<!-- bolts near cover -->
<g transform="translate(405.8 811.8) rotate(-28)"><rect x="0" y="-1.2" width="7" height="2.4" class="w"/><ellipse cx="0" cy="0" rx="1.3" ry="2.2" class="w"/></g>
<g transform="translate(398.3 826.6) rotate(-28)"><rect x="0" y="-1.2" width="7" height="2.4" class="w"/><ellipse cx="0" cy="0" rx="1.3" ry="2.2" class="w"/></g>
<circle class="g" cx="460.3" cy="780.8" r="2"/>
<circle class="w" cx="460.3" cy="780.8" r="0.9"/>
<circle class="g" cx="454.9" cy="797" r="2"/>
<circle class="w" cx="454.9" cy="797" r="0.9"/>
<circle class="g" cx="480.5" cy="785.4" r="2"/>
<circle class="w" cx="480.5" cy="785.4" r="0.9"/>
<circle class="g" cx="483.2" cy="766.5" r="2"/>
<circle class="w" cx="483.2" cy="766.5" r="0.9"/>
<g transform="translate(530.4 727.7) rotate(-28)"><rect x="0" y="-1.2" width="7" height="2.4" class="w"/><ellipse cx="0" cy="0" rx="1.3" ry="2.2" class="w"/></g>
<g transform="translate(526.3 757.9) rotate(-28)"><rect x="0" y="-1.2" width="7" height="2.4" class="w"/><ellipse cx="0" cy="0" rx="1.3" ry="2.2" class="w"/></g>
<!-- brackets region -->
<path d="M559.1,652.2 L572.6,655 L571.1,664.3 L561.9,668.5 Z" fill="#fff" stroke="#151515" stroke-width="1.8" stroke-linejoin="round"/>
<path class="k" d="M560.5,656.5 L570.4,662.1"/>
<path class="k" d="M562.6,653.6 L564,666.4"/>
<path class="k" d="M568.3,652.9 C569.1,653.1 572.4,653.2 573.3,654.3 C574.2,655.4 574.1,657.6 573.7,659.3 C573.3,661 571.5,663.5 571.1,664.3"/>
<circle cx="581.8" cy="647.2" r="2.8" fill="#fff" stroke="#222" stroke-width="1.3"/>
<circle class="t" cx="581.8" cy="647.2" r="1.1"/>
<circle class="wt" cx="593.5" cy="638" r="1.3"/>
<path class="t" d="M573.3,654.3 L578.2,650.1"/>
<path class="t" d="M584.6,645.1 L615.1,621.3"/>
<path class="w" d="M615.1,619.6 L622.2,615.6 L626.2,617 L624.8,619.6 L617.9,623.5 L614.8,622.4Z"/>
<ellipse class="wk" cx="624.2" cy="617" rx="1.6" ry="2.6" transform="rotate(-30 624.2 617)"/>
<path class="d" d="M610.9,628.1 L639.2,666.4 L576.8,713.2"/>
<rect x="611.3" y="659.8" width="5.4" height="6" rx="1.5" class="w" transform="rotate(-30 614 662.8)"/>
<path class="l" d="M578.9,686.2 L589.6,677.7 L615.1,708.2 L607.3,716 L610.1,720.3 L608,737.3 L603.8,739.4 L585.3,734.8 L579.6,728.8 L579.6,713.9"/>
<path class="l" d="M578.9,686.2 L576.8,710.4 L580.4,713.5 L607.3,716"/>
<path class="k" d="M589.6,677.7 L615.1,708.2"/>
<path class="t" d="M591.3,679.1 L614.8,706.8"/>
<circle class="f" cx="581.8" cy="700.4" r="0.8"/>
<circle class="f" cx="582.2" cy="704" r="0.8"/>
<circle class="t" cx="600.2" cy="694.8" r="1.2"/>
<circle class="t" cx="603.5" cy="728.8" r="1.2"/>
<path class="l" d="M589.6,717.4 C589.7,718.4 589.8,721.9 590.3,723.1 C590.8,724.3 592,724.3 592.4,724.5"/>
<path class="l" d="M594.5,717.4 C594.6,718.4 594.5,721.8 595,723.1 C595.5,724.4 596.7,725.2 597.4,725.2 C598.1,725.2 599,724.2 599.2,723.1 C599.4,722 598.9,719.6 598.8,718.9"/>
<path class="t" d="M583.2,714.6 L584.6,718.9"/>
<path class="t" d="M586,714.9 L587.4,719.1"/>
<path class="l" d="M560.5,720.3 C561,720 561.8,718.2 564,718.2 C566.2,718.2 573.8,719.1 576.8,720.3 C579.8,721.5 584,725.1 586.7,727.4 C589.4,729.7 595.4,736 596.7,737.3"/>
<path class="l" d="M561.2,722 C561.5,721.9 562.6,720.9 564,721 C565.4,721.1 573.3,722.2 575.4,723.1 C577.5,724 583.3,728.6 585.3,730.2 C587.3,731.8 593.1,737.3 595.2,739.4 C597.3,741.5 605,749.3 606.6,750.8 C608.2,752.3 610.9,753.3 611.1,754 C611.3,754.7 609.3,757.2 608.9,757.4 C608.5,757.6 607.5,755.9 607.3,755.7"/>
<path class="l" d="M596.7,737.3 L603.8,740.1 L607.3,750.1 L611.1,754"/>
<path class="k" d="M583.9,725.2 L588.2,730.2"/>
<circle cx="619.1" cy="709.2" r="3.2" fill="#fff" stroke="#222" stroke-width="1.3"/>
<circle class="t" cx="619.1" cy="709.2" r="1.3"/>
<circle cx="624.8" cy="715.3" r="3.2" fill="#fff" stroke="#222" stroke-width="1.3"/>
<circle class="t" cx="624.8" cy="715.3" r="1.3"/>
<g transform="translate(562.3 743.3) rotate(-28)"><rect x="0" y="-1.3" width="7" height="2.6" rx="1" class="w"/><ellipse cx="0" cy="0" rx="1.5" ry="2.6" class="w"/></g>
<g transform="translate(579.6 742.7) rotate(-28)"><rect x="0" y="-1.3" width="7" height="2.6" rx="1" class="w"/><ellipse cx="0" cy="0" rx="1.5" ry="2.6" class="w"/></g>
<g transform="translate(531.7 728.1) rotate(-32)"><rect x="0" y="-1.3" width="8" height="2.6" rx="1" class="w"/><ellipse cx="0" cy="0" rx="1.5" ry="2.2" class="w"/></g>
<circle class="g" cx="534" cy="752.9" r="2"/>
<circle class="w" cx="534" cy="752.9" r="0.9"/>
<path class="d" d="M562.3,743.3 L544.9,755 L714.2,919.9 L831.9,844.7"/>
<path class="d" d="M579.6,743 L562.6,754.3 L733.7,918.5 L849.6,844.7"/>
<path class="l" d="M664.4,597 L672.3,591.8 L683.7,606.9 L676.3,611.9Z"/>
<path class="t" d="M676.3,597 L679.9,607.4" style="stroke-dasharray:3 2"/>
<circle cx="675.7" cy="589" r="3" fill="#fff" stroke="#222" stroke-width="1.3"/>
<circle class="t" cx="675.7" cy="589" r="1.2"/>
<path class="t" d="M653.6,603.8 L672.3,591.8"/>
<path class="t" d="M678.6,586.7 L691.1,578.8"/>
<circle class="wt" cx="665.2" cy="596" r="1.2"/>
<path class="w" d="M642.3,608.9 L651.3,604 L653.4,604.9 L652.7,606.7 L644.5,611.9 L642.5,611.1Z"/>
<ellipse class="w" cx="643.6" cy="610.3" rx="1.6" ry="2.5" transform="rotate(-30 643.6 610.3)"/>
<path d="M691.6,568.6 L696.7,565.7 L705.8,568 L707,579.9 L701.8,583.3 L694.5,578.8 Z" fill="#fff" stroke="#151515" stroke-width="1.9" stroke-linejoin="round"/>
<path class="k" d="M696.7,566.3 L700.1,575.4 L701.8,582.8"/>
<path class="k" d="M693.3,575.4 L700.1,575.4 L706.4,573.1"/>
<circle class="wk" cx="693.9" cy="576.8" r="1.6"/>
<path class="k" d="M701.3,568.6 L704.7,569.1 L704.9,577.7"/>
<rect x="686.2" y="615.6" width="5.6" height="6.2" rx="1.6" class="w" transform="rotate(-30 689 618.7)"/>
<path class="d" d="M658.2,602.6 L686.5,644"/>
<path class="d" d="M679.7,611.7 L686.5,644" style="stroke-dasharray:4 2.5"/>
<path class="d" d="M686.5,644 L709.2,628.2"/>
<path class="l" d="M716,598.7 L725.1,591.3 L750.6,622.5 L742.1,629.9Z"/>
<path class="k" d="M725.1,591.3 L750.6,622.5"/>
<path class="l" d="M714.3,600.9 C714.3,603.2 714.4,617.6 714,620.8 C713.6,624 711.2,626.1 710.6,628.7 C710,631.3 709,641 709.2,643.5 C709.4,646 711.1,649.1 712.6,650.3 C714.1,651.5 719.6,653.1 721.7,653.7 C723.8,654.3 728.8,655.9 730.8,655.4 C732.8,654.9 737.5,650.6 738.7,649.1 C739.9,647.6 740.9,643.7 741,642.3 C741.1,640.9 739.6,638 739.9,636.7 C740.2,635.4 742.9,631.7 743.3,631"/>
<path class="l" d="M714.3,600.9 L716,598.7"/>
<path class="l" d="M712.6,624.2 L730.8,612.8"/>
<circle class="f" cx="717.7" cy="615.7" r="0.8"/>
<circle class="f" cx="718.1" cy="619.6" r="0.8"/>
<circle class="t" cx="730.2" cy="611.5" r="1"/>
<circle class="l" cx="716" cy="646.3" r="1.5"/>
<circle class="l" cx="733" cy="646.3" r="1.3"/>
<path class="l" d="M722.3,627.6 C721.8,628.7 719.8,632.3 719.4,634.4 C719,636.5 719.6,639.1 720,640.1 C720.4,641.1 721.4,640.5 721.7,640.6"/>
<path class="t" d="M724.5,629.9 C724,630.8 722.1,634.2 721.7,635.5 C721.3,636.8 721.9,637.4 721.9,637.8"/>
<path class="l" d="M727.9,632.7 C727.6,633.7 726.3,637.3 726.2,638.9 C726.1,640.5 727.2,641.7 727.4,642.3"/>
<path class="t" d="M730.8,632.1 C730.6,633 729.7,636.5 729.6,637.8 C729.5,639.1 730.1,639.7 730.2,640.1"/>
<path class="l" d="M737.6,636.7 L741.6,633.8 L746.1,629.9"/>
<circle class="wk" cx="748.4" cy="627" r="2.8"/>
<circle class="f" cx="748.4" cy="627" r="1.1"/>
<path d="M763,628 l5,-3.6 l1.8,1.8 l-1,3 l-4.5,2.2 Z" class="f"/>
<circle class="w" cx="767.2" cy="626.1" r="0.9"/>
<path class="d" d="M744.4,642.3 L779.7,617.4 L933.2,777.2 L917,791.7"/>
<path class="d" d="M756.9,620.8 L767.1,614.5 L925.5,775.5 L908.5,787.4"/>
<path class="t" d="M903.4,778.9 L922.1,767.9"/>
<path class="t" d="M912.8,789.1 L927.2,779.8"/>
<circle cx="698.8" cy="657.1" r="3.6" fill="#fff" stroke="#222" stroke-width="1.3"/>
<circle class="t" cx="698.8" cy="657.1" r="1.4"/>
<circle class="wk" cx="715.5" cy="656.5" r="3.6"/>
<circle class="g" cx="715.5" cy="656.5" r="1.4"/>
<!-- deflector 27, rod 26/25, bracket 19 -->
<path class="l" d="M856.3,454.2 L898.7,430.2"/>
<path class="l" d="M898.7,430.2 C899.9,429.9 905.2,428.2 907.7,427.7 C910.2,427.2 915.6,426.3 917.4,426.4 C919.2,426.5 920.8,427.4 921.5,428.1 C922.2,428.8 922.5,431.3 922.7,431.8"/>
<path class="l" d="M922.7,431.8 L912.6,437.8 L869.3,463.6"/>
<path class="l" d="M856.3,454.2 L859,457.4 L869.3,463.6"/>
<path class="t" d="M893.8,432.6 L904.4,429.7 L909,433.4"/>
<path class="t" d="M904.4,429.7 L912.6,437.8"/>
<path class="k" d="M891.3,439.1 L896.2,438.3"/>
<path class="k" d="M871.8,450.9 L875.9,451.9"/>
<path class="t" d="M857.9,457.1 L865.2,456.3 L870.1,462"/>
<path class="k" d="M897.9,445.7 L899.8,444.9"/>
<path class="l" d="M912.6,437.8 C911,442.5 895.5,488.9 893.8,493.8 C892.1,498.7 892.6,496.3 892.2,496.6 C891.8,496.9 889.5,497.9 888.9,497.9 C888.3,497.9 885.4,496.5 884.8,496.2 C884.2,495.9 882.3,494.1 881.6,493.8 C880.9,493.5 877.5,492.3 876.7,492.2 C875.9,492.1 872.7,492.6 871.8,493 C870.9,493.4 866.9,497.1 866.1,497.5 C865.4,497.9 863.5,498.3 862.8,498.2 C862.1,498.1 858.3,496.7 857.9,496.6"/>
<path class="t" d="M883.2,454.6 L869.3,463.6"/>
<path d="M846.5,480.3 L855.5,468.2 L883.5,453.8 L871.8,473.1 L848.9,485.1 Z" fill="#666" stroke="#333" stroke-width=".6"/>
<path class="t" d="M848.9,481.6 L862.8,475" style="stroke:#ddd;stroke-width:.35"/>
<path class="t" d="M851.5,478.8 L865.4,472.3" style="stroke:#ddd;stroke-width:.35"/>
<path class="t" d="M854.2,476 L868,469.5" style="stroke:#ddd;stroke-width:.35"/>
<path class="t" d="M856.8,473.2 L870.6,466.7" style="stroke:#ddd;stroke-width:.35"/>
<path class="t" d="M859.4,470.5 L873.2,463.9" style="stroke:#ddd;stroke-width:.35"/>
<path class="t" d="M862,467.7 L875.9,461.2" style="stroke:#ddd;stroke-width:.35"/>
<path class="t" d="M864.6,464.9 L878.5,458.4" style="stroke:#ddd;stroke-width:.35"/>
<path class="t" d="M867.2,462.1 L881.1,455.6" style="stroke:#ddd;stroke-width:.35"/>
<path class="t" d="M869.8,459.4 L883.7,452.9" style="stroke:#ddd;stroke-width:.35"/>
<path class="l" d="M846.5,464.4 L812.7,527.2"/>
<path class="l" d="M812.7,527.2 C812.8,527.7 812.7,530.4 813.4,531.3 C814.1,532.2 816.4,533.6 817.9,534.1 C819.4,534.6 823.1,535.4 824.5,535.4 C825.9,535.4 827.4,534.5 828.1,533.8 C828.8,533.1 829.5,530.9 829.7,530.5"/>
<path class="l" d="M829.7,530.5 L840,502 L848.9,476.7"/>
<path class="l" d="M840,502 L843.7,497.5 L860.7,487.8 L863.9,489.1 L846.5,499.8 L840.8,504.4"/>
<circle class="t" cx="816" cy="526.4" r="0.8"/>
<path class="t" d="M826.9,590 L1012.1,479.1"/>
<path d="M924,532.5 L973.7,503.1" fill="none" stroke="#3a3a3a" stroke-width="2.6" stroke-linejoin="round" stroke-linecap="butt"/>
<path d="M924,532.5 L973.7,503.1" fill="none" stroke="#fff" stroke-width="0.8" stroke-linejoin="round" stroke-linecap="butt"/>
<circle class="f" cx="924" cy="532.5" r="1.2"/>
<path d="M983.5,496.6 L1000.3,488.1" stroke="#151515" stroke-width="3" stroke-linecap="round" fill="none"/>
<path class="l" d="M980.2,506.8 C980.2,505.9 979.7,502.7 980.2,501.1 C980.8,499.6 983,498.1 983.5,497.5"/>
<path class="l" d="M993.3,493.8 L996.6,499.8 L998.2,496.2"/>
<path class="w" d="M840.8,574.5 L897.9,541.6 L898.9,546.8 L842.7,579.1Z"/>
<path class="l" d="M840.8,574.5 L841.6,582.7 L855.5,594.4 L917.4,556.9 L913.4,542.2 L899.2,549.7"/>
<path class="t" d="M842.7,579.1 L841.6,582.7"/>
<path class="t" d="M852.2,573.2 L896.6,547.6"/>
<path class="t" d="M853,574.9 L897.2,549.3"/>
<path class="k" d="M894.3,550.9 L894.3,568.3"/>
<path class="l" d="M854.6,581.4 L878.3,577.1 L865.2,575.4Z"/>
<path class="t" d="M854.6,581.4 L871.8,579.1"/>
<path class="l" d="M893.8,568.3 L911.7,547.6 L902,556.3Z"/>
<path class="k" d="M850.6,576.2 L856.3,572.9"/>
<path class="k" d="M895.4,549.3 L899.5,546.8"/>
<circle class="f" cx="847.3" cy="555" r="1.9"/>
<circle class="f" cx="860.4" cy="548.8" r="1.9"/>
<circle class="f" cx="874.7" cy="541.6" r="1.9"/>
<circle class="f" cx="893" cy="533.4" r="1.9"/>
<path class="d" d="M847.3,579.4 V814.5"/>
<circle class="f" cx="847.3" cy="814.5" r="0.9"/>
<path class="d" d="M862,590 V805.7"/>
<circle class="f" cx="862" cy="805.7" r="0.9"/>
<path class="d" d="M878,584.3 V796.8"/>
<circle class="f" cx="878" cy="796.8" r="0.9"/>
<path class="d" d="M894.3,568.8 V787.9"/>
<circle class="f" cx="894.3" cy="787.9" r="0.9"/>
<g transform="translate(846.5 617.8)"><rect x="-1.1" y="-4" width="2.2" height="5" class="w"/><path d="M-1.6,1 h3.2 l-.4,2.2 h-2.4 z" class="w"/></g>
<g transform="translate(862 608.5)"><rect x="-1.1" y="-4" width="2.2" height="5" class="w"/><path d="M-1.6,1 h3.2 l-.4,2.2 h-2.4 z" class="w"/></g>
<g transform="translate(878.3 598.2)"><rect x="-1.1" y="-4" width="2.2" height="5" class="w"/><path d="M-1.6,1 h3.2 l-.4,2.2 h-2.4 z" class="w"/></g>
<circle class="f" cx="894.3" cy="591.2" r="1.7"/>
<circle class="t" cx="894.3" cy="586.7" r="1"/>
<!-- engine 15 -->
<path class="l" d="M1036.6,409.8 C1036.4,410.2 1034.6,412.2 1034.3,414 C1034,415.8 1033.6,424.9 1033.5,427.4 C1033.4,429.9 1033.2,437.5 1033.5,438.9 C1033.8,440.3 1035.3,441.9 1036,441.7 C1036.7,441.4 1039.6,437.2 1040.4,436.4 C1041.2,435.6 1043.3,433.9 1043.6,433.6"/>
<path class="l" d="M1043.6,433.6 L1110.6,432.8"/>
<path class="l" d="M1110.6,432.8 C1111.1,432.5 1115,430.7 1115.7,430 C1116.4,429.3 1117.4,426.5 1117.3,425.5 C1117.2,424.5 1115.9,421.2 1115.1,420.4 C1114.3,419.6 1111.8,418 1109.4,417.2 C1107,416.4 1096.2,413.7 1091.5,412.8 C1086.8,411.9 1067.6,408.6 1062.1,408.3 C1056.6,408 1039.1,409.7 1036.6,409.8"/>
<path class="t" d="M1046.8,414.7 C1049.9,414.3 1071.1,410.5 1077.4,410.9 C1083.7,411.3 1105.7,417.2 1109.4,418.5 C1113.1,419.8 1114,423.1 1114.5,423.6" style="stroke-dasharray:3 1.5"/>
<path class="l" d="M1058.3,407 C1061.6,407.1 1085.1,408.5 1091.5,408.3 C1097.9,408.1 1115.8,404.7 1122.1,404.7 C1128.3,404.7 1148.4,407 1154,408.3 C1159.6,409.6 1175.6,416.4 1178.3,417.9 C1181,419.4 1180.8,423 1181.1,423.6"/>
<path class="l" d="M1181.1,423.6 L1178.9,451.7 L1176.4,459.4 L1168.1,461.9"/>
<path class="l" d="M1128.5,426.2 C1130.4,425.7 1144.5,421.9 1147.7,421.1 C1150.9,420.3 1157.2,418.5 1160.4,418.5 C1163.6,418.5 1177.7,420.8 1179.6,421.1"/>
<path class="l" d="M1114.5,419.8 C1115.9,420.4 1127,424.5 1128.5,426.2 C1130,427.9 1129.7,435.4 1129.8,436.4"/>
<path class="l" d="M1160.4,418.5 L1161.1,441.5"/>
<path class="t" d="M1154,408.3 L1160.4,418.5"/>
<path class="t" d="M1096.6,410.9 C1100.4,410.6 1127.9,408.2 1134.9,408.3 C1141.9,408.4 1162.5,411.1 1166.8,412.1 C1171.1,413.1 1177.1,417.3 1178.3,417.9" style="stroke-dasharray:4 2"/>
<path class="t" d="M1122.1,404.7 C1123.4,405.4 1133.1,410 1134.9,412.1 C1136.7,414.2 1139.5,424.8 1140,426.2"/>
<path d="M1062.1,400.6 C1071.1,389.1 1106.8,387.9 1117,403.4 L1096.6,408.3 L1080,407 Z" fill="#8a8a8a" stroke="#222" stroke-width="1"/>
<clipPath id="gr"><path d="M1062.1,400.6 C1071.1,389.1 1106.8,387.9 1117,403.4 L1096.6,408.3 L1080,407 Z"/></clipPath>
<g stroke="#1a1a1a" stroke-width="1.3" fill="none" stroke-linecap="round" clip-path="url(#gr)">
<path d="M1069.1,398.7 L1074.9,405.1"/>
<path d="M1074.3,395.5 L1080,405.1"/>
<path d="M1079.4,395.5 L1085.1,405.1"/>
<path d="M1084.5,395.5 L1090.2,405.1"/>
<path d="M1089.6,395.5 L1095.3,405.1"/>
<path d="M1094.7,395.5 L1100.4,405.1"/>
<path d="M1099.8,395.5 L1105.5,405.1"/>
<path d="M1104.9,395.5 L1110.6,405.1"/>
<path d="M1110,398.7 L1115.7,405.1"/>
<path d="M1076.2,392.3 L1080,397.4"/>
<path d="M1081.9,392.3 L1085.7,397.4"/>
<path d="M1087.7,392.3 L1091.5,397.4"/>
<path d="M1093.4,392.3 L1097.2,397.4"/>
<path d="M1099.1,392.3 L1103,397.4"/>
<path d="M1104.9,392.3 L1108.7,397.4"/>
</g>
<path class="l" d="M1064.7,400 C1066.8,398.9 1071.7,394.8 1077.4,393.6 C1083.1,392.4 1092.9,391.6 1099.1,393 C1105.3,394.4 1111.9,400.4 1114.5,401.9"/>
<path class="l" d="M1055.7,401.9 C1056.3,401.8 1059.7,400.1 1062.1,400.6 C1064.5,401.1 1078.2,406.2 1080,407 C1081.8,407.8 1082.2,408.2 1080,408.3 C1077.8,408.4 1060.8,408.6 1058.3,408.3 C1055.8,408 1054.9,406 1054.5,405.7"/>
<path d="M1064,405.7 L1068.5,403.4 L1078.7,407 L1076.2,408 Z" fill="#bbb" stroke="#444" stroke-width=".5"/>
<path class="w" d="M1032.8,397.4 C1033.4,396.6 1037.3,392.6 1039.1,392 C1040.9,391.4 1049,390.8 1050.6,391.1 C1052.2,391.5 1054.3,394.3 1054.7,395.5 C1055.1,396.7 1055.6,402.8 1054.2,403.4 C1052.8,404 1042.5,402.3 1040.4,401.9 C1038.3,401.5 1033.6,400.1 1032.8,399.6 C1032,399.2 1032.2,398.2 1032.8,397.4Z"/>
<path class="t" d="M1039.1,397.4 L1049.4,396.2 L1054.2,398.7"/>
<path class="t" d="M1039.1,397.4 L1040.4,401.9"/>
<path class="l" d="M1054.2,403.4 L1057,408.3"/>
<path class="l" d="M1050.6,403.4 L1053.4,408.3"/>
<ellipse class="w" cx="1136.4" cy="395.1" rx="10.8" ry="3.6"/>
<path class="l" d="M1125.7,395.5 L1126.2,401.3"/>
<path class="l" d="M1147.1,395.5 L1146.6,401.3"/>
<path class="l" d="M1126.2,401.3 C1127.9,401.8 1133,404.5 1136.4,404.5 C1139.8,404.5 1144.9,401.8 1146.6,401.3"/>
<path class="t" d="M1128.5,398.3 L1128.8,402.7"/>
<path class="t" d="M1131.3,398.3 L1131.6,402.7"/>
<path class="t" d="M1134.1,398.3 L1134.4,402.7"/>
<path class="t" d="M1136.9,398.3 L1137.2,402.7"/>
<path class="t" d="M1139.7,398.3 L1140,402.7"/>
<path class="t" d="M1142.6,398.3 L1142.8,402.7"/>
<path class="t" d="M1145.4,398.3 L1145.6,402.7"/>
<path class="t" d="M1124.7,403.2 C1126.7,403.8 1132.4,407 1136.4,407 C1140.4,407 1146,403.2 1148.9,403.4 C1151.8,403.6 1153.2,407.5 1154,408.3"/>
<path class="l" d="M1043.6,433.6 L1045.5,441.5 L1091.5,441.5 L1091.5,433.6"/>
<path class="t" d="M1062.1,433.8 L1062.8,442.8"/>
<path class="t" d="M1067.2,433.8 L1067.5,443.4"/>
<path class="t" d="M1091.5,441.5 L1111.9,441.5"/>
<ellipse class="w" cx="1047.4" cy="448.5" rx="5.6" ry="2.9" transform="rotate(25 1047.4 448.5)"/>
<ellipse class="w" cx="1051.3" cy="454.9" rx="5.6" ry="2.9" transform="rotate(25 1051.3 454.9)"/>
<ellipse class="w" cx="1055.7" cy="460.9" rx="5.6" ry="2.9" transform="rotate(25 1055.7 460.9)"/>
<ellipse class="w" cx="1060.2" cy="466.4" rx="5.6" ry="2.9" transform="rotate(25 1060.2 466.4)"/>
<path class="k" d="M1041.7,438.9 L1050,436.4 L1051.9,441.5"/>
<path class="l" d="M1058.3,470.9 L1065.3,467 L1064,461.9"/>
<path class="l" d="M1042.3,445.3 L1041.1,451.7"/>
<path class="l" d="M1052.6,476 L1074.9,474.7"/>
<path class="l" d="M1052.6,478.5 L1074.9,477.9"/>
<path class="t" d="M1057,472.1 L1068.5,472.1 L1068.5,479.8"/>
<path class="w" d="M1076.2,443 C1078.5,442.9 1107,442.3 1109.4,442.5 C1111.8,442.7 1112.5,444.7 1112.9,445.3 C1113.3,445.9 1114.6,449.2 1114.7,451.7 C1114.8,454.2 1114.4,480.1 1114.2,482.3 C1114,484.5 1114.2,484.7 1111.9,484.9 C1109.6,485.1 1082.4,485.3 1080,485.1 C1077.6,484.9 1076.6,482.8 1076.2,482.3 C1075.8,481.8 1074.1,479.4 1073.9,477.2 C1073.7,475 1073.4,451.3 1073.4,449.1 C1073.4,446.9 1074.1,445.1 1074.3,444.7 C1074.5,444.3 1073.9,443.1 1076.2,443Z"/>
<g stroke="#1c1c1c" stroke-width="1.5" stroke-linecap="round" fill="none">
<path d="M1078.1,453 L1080,447.6"/>
<path d="M1080.9,452.5 L1082.8,447.2"/>
<path d="M1083.7,452 L1085.6,446.9"/>
<path d="M1086.5,451.4 L1088.4,446.5"/>
<path d="M1089.3,450.9 L1091.2,446.1"/>
<path d="M1092.1,450.4 L1094,445.7"/>
<path d="M1097.9,451.7 L1099.8,446.6"/>
<path d="M1100.7,451.7 L1102.6,446.6"/>
<path d="M1103.5,451.7 L1105.4,446.6"/>
<path d="M1106.3,451.7 L1108.2,446.6"/>
<path d="M1109.1,451.7 L1111,446.6"/>
<path d="M1096.6,463.2 L1098.1,459.4"/>
<path d="M1099.4,463.2 L1100.9,459.4"/>
<path d="M1102.2,463.2 L1103.7,459.4"/>
<path d="M1105,463.2 L1106.6,459.4"/>
<path d="M1096.6,470.9 L1098.5,467"/>
<path d="M1099.7,470.9 L1101.6,467"/>
<path d="M1102.7,470.9 L1104.6,467"/>
<path d="M1105.8,470.9 L1107.7,467"/>
<path d="M1078.1,479.8 L1080.6,474"/>
<path d="M1080.9,479.5 L1083.4,473.8"/>
<path d="M1083.7,479.3 L1086.3,473.5"/>
<path d="M1086.5,479 L1089.1,473.3"/>
<path d="M1089.3,478.8 L1091.9,473"/>
<path d="M1092.1,478.5 L1094.7,472.8"/>
<path d="M1099.1,482.3 L1101.7,477.9"/>
<path d="M1102.2,482.3 L1104.8,477.9"/>
<path d="M1105.3,482.3 L1107.8,477.9"/>
<path d="M1108.3,482.3 L1110.9,477.9"/>
<path d="M1076.2,458.1 L1077.4,461.9"/>
<path d="M1076.8,467 L1078.1,470.9"/>
<path d="M1108.1,461.9 L1109.4,467"/>
</g>
<circle class="wk" cx="1088.3" cy="464.5" r="5.6"/>
<circle class="f" cx="1088.3" cy="464.5" r="3.2"/>
<path class="l" d="M1112.9,445.3 L1129.8,456.8 L1133.4,482.3 L1114.5,483.9"/>
<path class="l" d="M1112.9,445.3 L1117,441.5 L1132.3,451.7 L1129.8,456.8"/>
<g stroke="#1c1c1c" stroke-width="1.4" stroke-linecap="round" fill="none">
<path d="M1115.7,454.3 L1117.7,450.4"/>
<path d="M1118.6,455.8 L1120.5,452"/>
<path d="M1121.4,457.3 L1123.3,453.5"/>
<path d="M1120.9,461.9 L1126,463.8"/>
<path d="M1120.9,467 L1126.6,468.3"/>
<path d="M1122.1,464.5 L1122.1,467.7"/>
<path d="M1118.3,478.5 L1122.1,473.4"/>
<path d="M1121.5,478.5 L1125.3,473.4"/>
<path d="M1124.7,478.5 L1128.5,473.4"/>
</g>
<path class="t" d="M1113.8,451.7 L1129.8,479.8"/>
<path class="t" d="M1129.8,458.1 L1114.5,482.3"/>
<path class="w" d="M1134.9,436.4 C1135.9,434.7 1140.8,430.3 1142.6,430 C1144.4,429.7 1151,432.7 1152.8,433.8 C1154.6,434.9 1159.4,438.9 1160.4,441.5 C1161.4,444.1 1162.9,456.3 1163,459.4 C1163.1,462.5 1161.9,470.6 1161.1,472.1 C1160.3,473.6 1157.3,474.7 1155.3,474.7 C1153.3,474.7 1143.5,472.9 1141.3,472.1 C1139.1,471.3 1134.5,469.6 1133.6,467 C1132.7,464.4 1132.2,449.7 1132.3,446.6 C1132.4,443.5 1133.9,438.1 1134.9,436.4Z"/>
<path class="k" d="M1128.5,438.9 C1129.6,437.6 1132.6,432.8 1134.9,431.3 C1137.2,429.8 1141.3,430.2 1142.6,430"/>
<path class="l" d="M1128.5,438.9 C1128.9,441.2 1130.2,450 1131.1,453 C1131.9,456 1133.2,456.2 1133.6,456.8"/>
<path class="k" d="M1132.3,430 L1128.5,438.9"/>
<path class="l" d="M1142.6,446.6 C1144.3,446 1150,442.8 1152.8,442.8 C1155.5,442.8 1158,446 1159.1,446.6"/>
<rect x="1146.4" y="451.7" width="11.5" height="12.5" rx="2" class="w" transform="rotate(-8 1146.4 451.7)"/>
<path class="k" d="M1148.9,454.3 L1149.2,462.6"/>
<path class="k" d="M1151.5,453.6 L1152.1,462.6"/>
<path class="k" d="M1154,453 L1156,461.9"/>
<path class="k" d="M1156.6,452.7 L1156.1,458.1"/>
<path class="k" d="M1163,449.1 L1166.8,449.8"/>
<path class="k" d="M1163.6,461.9 L1168.1,460.6"/>
<path class="k" d="M1168.1,428.7 L1177,426.2"/>
<path class="l" d="M1133.6,469.6 C1134.9,470.7 1137.9,474.5 1141.3,476 C1144.7,477.5 1150.6,478.5 1154,478.5 C1157.4,478.5 1160.4,476.4 1161.7,476"/>
<circle class="wk" cx="1159.8" cy="478.3" r="2.2"/>
<path class="l" d="M1154,478.5 L1155.3,482.3"/>
<path class="l" d="M1045.5,481.7 L1076.2,483"/>
<path class="l" d="M1045.5,481.7 L1045.5,489.4 L1094,490.6 L1131.1,488.7 L1133.9,484.3 L1114.5,484.3"/>
<path class="t" d="M1046.2,488.1 L1093.4,489.4"/>
<g stroke="#1c1c1c" stroke-width="1.3" stroke-linecap="round" fill="none">
<path d="M1050,486.8 L1053.8,483"/>
<path d="M1053.6,486.8 L1057.4,483"/>
<path d="M1057.1,486.8 L1061,483"/>
<path d="M1060.7,486.8 L1064.6,483"/>
<path d="M1064.3,486.8 L1068.1,483"/>
<path d="M1069.1,486.8 L1071.1,483"/>
</g>
<path class="t" d="M1071.1,491.3 C1071.7,491.5 1073.6,492.3 1074.9,492.3 C1076.2,492.3 1078.1,491.5 1078.7,491.3"/>
<path class="t" d="M1096.6,490.6 C1097.4,490.8 1100,491.9 1101.7,491.9 C1103.4,491.9 1106,490.8 1106.8,490.6"/>
<path class="l" d="M1086.4,491.3 L1087,521.3 L1096.6,521.3 L1096,491.3"/>
<path class="t" d="M1087,516.8 L1096.6,516.8"/>
<path class="k" d="M1091.5,521.9 L1091.5,541.1 L1044.3,541.1" style="stroke-width:2.2;stroke:#111"/>
<path class="k" d="M1092.8,438.9 L1096.6,436.4"/>
<circle class="wk" cx="1095.3" cy="437" r="1.4"/>
<!-- screws 12 -->
<g transform="translate(1045.4 661.3)"><rect x="-1.2" y="-1" width="2.4" height="6" rx=".6" class="w"/><path d="M-2,-3.2 h4 l-.4,2.6 h-3.2 z" class="f"/></g>
<g transform="translate(1107.4 661.3)"><rect x="-1.2" y="-1" width="2.4" height="6" rx=".6" class="w"/><path d="M-2,-3.2 h4 l-.4,2.6 h-3.2 z" class="f"/></g>
<g transform="translate(1118.1 695.7)"><rect x="-1.2" y="-1" width="2.4" height="6" rx=".6" class="w"/><path d="M-2,-3.2 h4 l-.4,2.6 h-3.2 z" class="f"/></g>
<!-- deck 8 -->
<path class="l" d="M824.9,828.9 C825.1,828.2 826,825.1 826.6,824 C827.2,822.9 828.2,821.5 829.1,820.4 C830,819.3 832.8,816.2 833.4,815.5"/>
<path class="t" d="M824.9,828.9 L807.9,879.4" style="stroke-dasharray:2.2 1.3;stroke:#333"/>
<path class="l" d="M833.4,815.5 L890.4,783.2"/>
<path class="l" d="M890.4,783.2 C890.9,783 892.5,782 893.6,782.1 C894.7,782.2 896.6,783.5 897.2,783.8"/>
<path class="l" d="M897.2,783.8 C901,786.1 928.5,803 935.1,807 C941.7,811 959.2,821.8 962.8,824 C966.4,826.2 967.3,827.6 971.3,829.4 C975.3,831.2 996.2,839.2 1003.2,842.1 C1010.2,845 1035.8,855.8 1041.5,858.1 C1047.2,860.4 1057.2,864.1 1060.6,865.5 C1064,866.9 1074,871.3 1075.5,871.9"/>
<path class="l" d="M1075.5,871.9 C1076.2,872.6 1079.7,875.5 1080.9,877.2 C1082.1,878.9 1083.5,882 1084.5,884.7 C1085.5,887.4 1087.6,894.7 1088.3,897.4 C1089,900.1 1089.3,903.9 1089.4,904.9" style="stroke-dasharray:2.5 1.2;stroke-width:.9"/>
<path class="l" d="M1089.4,904.9 L1093.6,903.4 L1094.3,910.2"/>
<path class="l" d="M829.8,894.3 C832.4,895 848.2,899 852.1,900.6 C856,902.2 859.3,905.7 862.8,908.1 C866.3,910.5 876.4,918.3 881.9,920.9 C887.4,923.5 902.6,928.7 909.6,930.4 C916.6,932.1 935.3,935 941.5,935.7 C947.7,936.4 958.8,936.8 962.8,936.8 C966.8,936.8 972.3,935.5 975.5,935.7 C978.7,935.9 988.2,938.8 990.4,938.9 C992.6,939 994.2,937 994.7,936.8" style="stroke-width:1.2;stroke:#222"/>
<path class="l" d="M994.7,936.8 L996.8,935.7"/>
<path class="l" d="M996.8,935.7 C996.9,934.9 996.9,930.7 997.4,929.4 C997.9,928.1 999.8,926.3 1000.6,926.2 C1001.4,926.1 1003.2,927.5 1003.6,928.9 C1004,930.3 1003.6,935.7 1003.6,936.8"/>
<path class="t" d="M999.4,936.2 C999.5,935.4 999.6,931.3 999.8,930.4 C1000,929.5 1000.8,929.3 1001.1,929.4 C1001.4,929.5 1001.8,930.5 1001.9,931.5 C1002,932.5 1001.9,936.1 1001.9,936.8"/>
<path class="l" d="M1003.6,936.8 L1008.5,938.9 L1007,943.2"/>
<path class="l" d="M1007,943.2 C1008.5,943.4 1016.4,945.4 1020.2,945.3 C1024,945.2 1034.7,943.6 1039.4,942.1 C1044.1,940.6 1056.1,934.8 1060.6,932.6 C1065.1,930.4 1074.5,925 1077.7,923 C1080.9,921 1086.4,917 1088.3,915.5 C1090.2,914 1093.6,910.8 1094.3,910.2" style="stroke-width:1.2;stroke:#222"/>
<path class="l" d="M807.4,880.4 C806.8,881 803.4,883.7 803.2,884.7 C803,885.7 804.7,887.6 805.7,887.9 C806.7,888.2 809.5,888.1 810.6,886.8 C811.7,885.5 812.9,879.6 813.8,878.3 C814.7,877 817.1,877.5 817.7,877.2 C818.3,876.9 818.4,876.3 818.5,876.2"/>
<path class="l" d="M818.5,876.2 C818.9,875.6 820.2,872.1 821.3,871.5 C822.4,870.9 825.5,870.9 826.6,871.5 C827.7,872.1 829.5,874.8 829.8,876.2 C830.1,877.6 829.2,881.3 829.1,882.1"/>
<path class="t" d="M829.1,882.1 L834,884.7"/>
<path class="t" d="M829.8,890 L829.8,894.3"/>
<circle class="t" cx="835.1" cy="882.1" r="1.1"/>
<circle class="t" cx="838.3" cy="887.9" r="1.1"/>
<circle class="t" cx="852.8" cy="892.1" r="1.1"/>
<ellipse class="l" cx="962.8" cy="856" rx="37.5" ry="12.2" transform="rotate(4 962.8 856)"/>
<path class="t" d="M934,861.3 L992.6,863.4"/>
<path class="t" d="M984,849.6 L993.6,856"/>
<path class="t" d="M896.8,835.7 C897.1,837.6 896.7,844.3 898.9,848.5 C901.1,852.7 906.3,859.2 911.7,863.4 C917.1,867.6 927.4,873.3 935.1,876.2 C942.8,879.1 954.5,881.5 962.8,882.6 C971.1,883.7 982.4,884.7 990.4,883.6 C998.4,882.5 1012.2,876.4 1016,875.1"/>
<path class="t" d="M964.9,833.6 C967.8,834.6 978.3,837.5 984,840 C989.7,842.5 999.4,846.8 1003.2,850.6 C1007,854.4 1008,862.8 1009.6,865.5 C1011.2,868.2 1013.2,868.2 1013.8,868.7"/>
<ellipse class="f" cx="908.5" cy="843.6" rx="1.4" ry="0.8"/>
<ellipse class="f" cx="920.2" cy="855.3" rx="1.4" ry="0.8"/>
<ellipse class="f" cx="943.6" cy="838.9" rx="1.4" ry="0.8"/>
<ellipse class="f" cx="959.6" cy="834.3" rx="1.4" ry="0.8"/>
<ellipse class="f" cx="964.9" cy="839.6" rx="1.4" ry="0.8"/>
<ellipse class="f" cx="976.6" cy="869.4" rx="1.4" ry="0.8"/>
<ellipse class="f" cx="1000" cy="854.9" rx="1.4" ry="0.8"/>
<ellipse class="t" cx="942.6" cy="817" rx="3.2" ry="1.8"/>
<circle class="t" cx="1013.8" cy="868.7" r="0.8"/>
<circle class="f" cx="1041.5" cy="858.1" r="0.7"/>
<circle class="wt" cx="833.4" cy="843.4" r="1.7"/>
<circle class="wt" cx="850.9" cy="843.4" r="1.7"/>
<path class="d" d="M834,883 L809.6,900"/>
<path class="d" d="M825.5,863.4 L807.4,876.2"/>
<circle class="f" cx="846.8" cy="815.5" r="0.9"/>
<circle class="f" cx="862.8" cy="807" r="0.9"/>
<circle class="f" cx="878.3" cy="797" r="0.9"/>
<circle class="f" cx="894.3" cy="787.9" r="0.9"/>
<path class="l" d="M789.4,896.4 C788.1,897.3 783.3,899.6 781.9,901.7 C780.5,903.8 779.8,907.2 780.9,909.1 C782,911 785.5,912.9 788.3,913.4 C791.1,913.9 796.3,912.5 797.9,912.3"/>
<path class="t" d="M791.5,898.5 C790.4,899.2 786.4,901.2 785.1,902.8 C783.9,904.4 783.3,906.8 784,908.1 C784.7,909.5 787.1,910.6 789.4,910.9 C791.7,911.2 796.5,910 797.9,909.8"/>
<circle cx="788.3" cy="893.6" r="2.3" fill="#fff" stroke="#222" stroke-width="1.2"/>
<circle class="t" cx="788.3" cy="893.6" r="0.9"/>
<circle cx="796.4" cy="890.6" r="2.3" fill="#fff" stroke="#222" stroke-width="1.2"/>
<circle class="t" cx="796.4" cy="890.6" r="0.9"/>
<circle cx="806.4" cy="904.9" r="2.3" fill="#fff" stroke="#222" stroke-width="1.2"/>
<circle class="t" cx="806.4" cy="904.9" r="0.9"/>
<circle cx="798.9" cy="911.9" r="2.3" fill="#fff" stroke="#222" stroke-width="1.2"/>
<circle class="t" cx="798.9" cy="911.9" r="0.9"/>
<circle cx="773.4" cy="903.8" r="2" fill="#fff" stroke="#222" stroke-width="1.2"/>
<circle class="t" cx="773.4" cy="903.8" r="0.8"/>
<circle cx="786.6" cy="921.5" r="2" fill="#fff" stroke="#222" stroke-width="1.2"/>
<circle class="t" cx="786.6" cy="921.5" r="0.8"/>
<path class="l" d="M947.9,947.4 C948.4,947.9 950.9,949 951.1,950.6 C951.3,952.2 948.7,955.4 948.9,957 C949.1,958.6 950.3,960 952.1,960.2 C953.9,960.4 958.4,958.5 959.6,958.1"/>
<path class="t" d="M945.7,948.5 C946.1,949.2 947.8,951.2 947.9,952.8 C948,954.4 945.7,956.4 946.2,958.1 C946.7,959.8 948.9,962.5 951.1,963 C953.3,963.5 958.2,961.2 959.6,960.9"/>
<circle cx="958.5" cy="940" r="2.3" fill="#fff" stroke="#222" stroke-width="1.2"/>
<circle class="t" cx="958.5" cy="940" r="0.9"/>
<circle cx="969.1" cy="952.8" r="2.3" fill="#fff" stroke="#222" stroke-width="1.2"/>
<circle class="t" cx="969.1" cy="952.8" r="0.9"/>
<circle cx="947.9" cy="965.5" r="2.3" fill="#fff" stroke="#222" stroke-width="1.2"/>
<circle class="t" cx="947.9" cy="965.5" r="0.9"/>
<circle cx="937.2" cy="952.8" r="2.3" fill="#fff" stroke="#222" stroke-width="1.2"/>
<circle class="t" cx="937.2" cy="952.8" r="0.9"/>
<path class="d" d="M971.3,951.7 L1001.1,936.8"/>
<path class="d" d="M960.6,938.9 L1001.1,918.7"/>
<circle class="f" cx="1001.5" cy="918.3" r="0.9"/>
<circle class="f" cx="1011.3" cy="930.4" r="0.9"/>
<circle class="l" cx="921.3" cy="952.8" r="3.4"/>
<circle class="l" cx="923.5" cy="956.2" r="1.2"/>
<path class="t" d="M972.3,803.2 L987.2,811.3 L991.5,812.8 L992.6,802.1 L994.3,800.6 L996,802.1 L996.8,814.5 L1013.8,823 L1044.7,834"/>
<path class="t" d="M1019.6,803.8 V962.3"/>
<circle class="f" cx="1019.6" cy="920.9" r="0.9"/>
<rect x="1018.4" y="962.3" width="2.4" height="4.6" rx=".8" class="w"/>
<path class="t" d="M1046.2,812.3 V957"/>
<circle class="f" cx="1046.2" cy="935.7" r="0.9"/>
<rect x="1045" y="957" width="2.4" height="4.6" rx=".8" class="w"/>
<path class="t" d="M1064.5,802.8 V957"/>
<circle class="f" cx="1064.5" cy="928.3" r="0.9"/>
<rect x="1063.3" y="957" width="2.4" height="4.6" rx=".8" class="w"/>
<path class="t" d="M1071.3,810.2 V955.3"/>
<circle class="f" cx="1071.3" cy="903.4" r="0.9"/>
<rect x="1070.1" y="955.3" width="2.4" height="4.6" rx=".8" class="w"/>
<circle class="f" cx="1078.7" cy="903.8" r="0.8"/>
<path class="l" d="M1101.5,859.1 C1102,859 1106.3,857 1106.4,858.1 C1106.5,859.2 1101.4,868.4 1102.1,869.8 C1102.8,871.2 1112.6,872 1113.8,872.3"/>
<path class="t" d="M1100,861.3 C1100.4,861.3 1104.3,859.8 1104.3,860.9 C1104.3,862 1099.2,870.5 1100,871.9 C1100.8,873.3 1111.5,874.6 1112.8,874.9"/>
<circle cx="1111.7" cy="854.9" r="2.2" fill="#fff" stroke="#222" stroke-width="1.2"/>
<circle class="t" cx="1111.7" cy="854.9" r="0.9"/>
<circle cx="1092.6" cy="866.6" r="2.2" fill="#fff" stroke="#222" stroke-width="1.2"/>
<circle class="t" cx="1092.6" cy="866.6" r="0.9"/>
<circle cx="1103.2" cy="878.7" r="2.2" fill="#fff" stroke="#222" stroke-width="1.2"/>
<circle class="t" cx="1103.2" cy="878.7" r="0.9"/>
<circle cx="1114.9" cy="873.2" r="2.2" fill="#fff" stroke="#222" stroke-width="1.2"/>
<circle class="t" cx="1114.9" cy="873.2" r="0.9"/>
<circle cx="1121.9" cy="867.7" r="2" fill="#fff" stroke="#222" stroke-width="1.2"/>
<circle class="t" cx="1121.9" cy="867.7" r="0.8"/>
<path class="t" d="M1083,872.3 L1090.9,867.7"/>
<path class="t" d="M1090.4,885.1 L1101.5,879.8"/>
<!-- parts 16 40 39 -->
<path class="l" d="M934.8,759.7 C935,760.7 935.3,763.6 936.2,765.4 C937.1,767.2 938.6,769.5 940.4,770.7 C942.2,771.9 944.8,772.7 946.8,772.8 C948.8,772.9 951.1,772 952.5,771.4 C953.9,770.8 954.8,769.3 955.3,768.9"/>
<path class="k" d="M937.6,759.7 C937.8,760.5 938.1,762.8 938.9,764.3 C939.7,765.8 941.2,767.6 942.6,768.6 C944,769.6 945.7,770 947.2,770 C948.7,770 951,769.1 951.8,768.9" style="stroke-width:1.3"/>
<ellipse class="l" cx="944" cy="753.3" rx="3.6" ry="2.2" transform="rotate(-35 944 753.3)"/>
<path class="k" d="M935.5,759 L941.1,751.9" style="stroke-width:1.3"/>
<path class="t" d="M933.3,760.4 L935.5,759"/>
<ellipse class="l" cx="952.8" cy="770" rx="3.4" ry="2" transform="rotate(-30 952.8 770)"/>
<path class="l" d="M946.8,751.2 L955.3,746.2"/>
<path class="l" d="M956,768.9 L964.2,763.6"/>
<circle cx="957.4" cy="744.8" r="2.1" fill="#fff" stroke="#1c1c1c" stroke-width="1.5"/>
<circle cx="966.3" cy="762.6" r="2.1" fill="#fff" stroke="#1c1c1c" stroke-width="1.5"/>
<circle cx="927.7" cy="763.3" r="2.6" fill="#fff" stroke="#1c1c1c" stroke-width="1.4"/>
<circle cx="936.2" cy="780.6" r="2.4" fill="#fff" stroke="#1c1c1c" stroke-width="1.6"/>
<path class="t" d="M945.4,775.3 L939.7,778.9"/>
<ellipse class="l" cx="943.4" cy="784.2" rx="5.2" ry="1.6"/>
<ellipse class="l" cx="943.4" cy="786.7" rx="5.2" ry="1.6"/>
<ellipse class="l" cx="943.4" cy="789.1" rx="5.2" ry="1.6"/>
<ellipse class="l" cx="943.4" cy="791.6" rx="5.2" ry="1.6"/>
<ellipse class="wk" cx="943.4" cy="794.5" rx="6" ry="2.4"/>
<ellipse class="t" cx="943.4" cy="794.1" rx="3.2" ry="1.2"/>
<ellipse class="l" cx="943.3" cy="803" rx="4.9" ry="2.4"/>
<ellipse class="t" cx="943.3" cy="802.8" rx="3" ry="1.3"/>
<path class="t" d="M934,782.8 L919.1,792.7"/>
<!-- cover 17 -->
<path class="l" d="M988.3,781.5 L984,809.1" style="stroke-dasharray:4 2"/>
<path class="l" d="M988.3,781.5 C988.5,780.6 988.5,777.5 989.4,776.2 C990.3,774.9 992.9,774 993.6,773.6"/>
<path class="l" d="M993.6,773.6 C997,772.8 1006.9,770.9 1013.8,768.7 C1020.7,766.5 1031.5,762 1035.1,760.6" style="stroke-width:1.2;stroke:#1c1c1c"/>
<path class="l" d="M1035.1,760.6 C1036,760.1 1039.9,758.5 1041.5,757 C1043.1,755.5 1045.7,751.2 1046.8,749.6 C1047.9,748 1049.1,745.6 1050,744.7 C1050.9,743.8 1052.7,743 1053.8,743 C1054.9,743 1057.5,744.5 1058.1,744.7" style="stroke-width:1.2;stroke:#1c1c1c"/>
<path class="l" d="M1058.1,744.7 L1086.2,779.4" style="stroke-width:1.2;stroke:#1c1c1c"/>
<path class="l" d="M1086.2,779.4 L1086.2,791.1 L1081.9,798.5" style="stroke-width:1.2;stroke:#1c1c1c"/>
<path class="l" d="M988.3,781.5 L1013.8,810.2 L1016,827.2"/>
<path class="l" d="M1013.8,810.2 L1016,803.8 L1036.2,811.3"/>
<path class="l" d="M1036.2,811.3 C1036.7,810.8 1038.5,809.4 1039.4,808.1 C1040.4,806.9 1041.5,804.5 1041.9,803.8" style="stroke-width:1.2;stroke:#1c1c1c"/>
<path class="l" d="M1041.9,803.8 L1077.7,787.9 L1082.3,792.1" style="stroke-width:1.2;stroke:#1c1c1c"/>
<path class="l" d="M1081.9,798.5 L1077.7,802.1 L1041.5,819.1"/>
<path class="l" d="M1041.5,819.1 C1041,819.6 1039,821 1038.3,821.9 C1037.6,822.8 1037.4,824.1 1037.2,824.5"/>
<path class="l" d="M1037.2,824.5 L1017,826.8 L1013.8,824"/>
<path class="l" d="M1036.2,811.3 L1034,824" style="stroke-width:1.8;stroke:#1c1c1c"/>
<path class="l" d="M1039.4,816.6 L1077.7,799.6 L1080.2,793.2"/>
<path class="t" d="M1043.6,813.4 L1075.5,798.5"/>
<path class="l" d="M1077.7,787.9 L1078.7,800.6" style="stroke-width:1.2;stroke:#1c1c1c"/>
<path class="l" d="M1013.8,775.1 L1047.9,757 L1069.1,778.3 L1035.1,795.7Z"/>
<path class="t" d="M1019.1,777.2 L1047.4,762.3 L1063.8,778.7 L1036.2,792.1Z"/>
<path class="l" d="M1035.1,795.7 L1039.4,801.7 L1075.5,785.7 L1069.1,778.3"/>
<path class="t" d="M1041.5,785.7 L1060.6,777.2"/>
<path class="t" d="M1044.7,750.6 L1044.7,812.3" style="stroke:#aaa"/>
<g stroke="#151515" stroke-width="2" stroke-linecap="butt" fill="none">
<path d="M1058.9,748.9 L1056.4,758.1"/>
<path d="M1062.6,753.2 L1060,762.8"/>
<path d="M1066.2,757.4 L1063.6,767.4"/>
<path d="M1069.8,761.7 L1067.2,772.1"/>
<path d="M1073.4,766 L1070.9,776.8"/>
<path d="M1077,770.2 L1074.5,781.5"/>
</g>
<path class="l" d="M1055.3,748.5 L1079.8,776.2"/>
<path class="l" d="M1053.2,758.1 L1077.7,787.9"/>
<g stroke="#151515" stroke-width="2" stroke-linecap="butt" fill="none">
<path d="M995.7,780 L1009.6,778.3"/>
<path d="M1001.3,785.1 L1015.1,783.4"/>
<path d="M1006.8,790.2 L1020.6,788.5"/>
<path d="M1012.3,795.3 L1026.2,793.6"/>
<path d="M1017.9,800.4 L1031.7,798.7"/>
</g>
<path class="l" d="M993.6,778.3 L1020.2,802.1 L1035.1,803.8"/>
<path class="l" d="M1007.4,776.2 L1035.1,800.6"/>
<path class="l" d="M1035.1,800.6 C1035.4,801.1 1037,802 1037.2,803.8 C1037.4,805.6 1036.4,810 1036.2,811.3" style="stroke-width:1.2;stroke:#1c1c1c"/>
<path class="t" d="M1020.2,815.5 L1035.1,813.4"/>
<path class="t" d="M1018.1,820.9 L1034,818.7"/>
<!-- blade assembly -->
<path class="l" d="M948.7,1047.2 L951.9,1045.5 L962.1,1063.6 L990.2,1062.6 L991.9,1063.6 L991.3,1065.5 L961.5,1066.8Z"/>
<path class="l" d="M948.7,1047.2 L961.5,1066.8"/>
<path class="l" d="M980.6,1045.1 L991.9,1063.6"/>
<path class="t" d="M951.9,1045.5 L960.4,1045.1"/>
<path d="M961.9,1037 L961.9,1056.6 A9.6,3.8 0 0 0 981.1,1056.6 L981.1,1037 Z" class="w"/>
<ellipse class="w" cx="971.5" cy="1037" rx="9.6" ry="3.8"/>
<ellipse class="l" cx="971.5" cy="1037" rx="6.2" ry="2.4"/>
<ellipse class="t" cx="971.5" cy="1037.5" rx="3.4" ry="1.3"/>
<circle class="t" cx="973.6" cy="1062.1" r="1.1"/>
<path class="l" d="M829.6,1115.7 L839.1,1125.3 L847.7,1126.4 L1034.9,1100.9 L1043.4,1094.5 L1116.8,1090.2 L1115.7,1087.7 L1103,1073.2"/>
<path class="l" d="M829.6,1115.7 L862.6,1108.3 L876.4,1098.7 L914.7,1092.3 L920,1095.7" style="stroke-dasharray:3.5 1.8"/>
<path class="l" d="M920,1095.7 L1017.9,1083.8 L1045.5,1080.6 L1103,1073.2" style="stroke-dasharray:3.5 1.8"/>
<path class="t" d="M832.8,1116.8 L841.3,1123.8 L848.7,1124.3 L1033.8,1099.1 L1042.3,1092.8 L1114.7,1088.5" style="stroke-dasharray:4 2"/>
<path class="l" d="M876.4,1098.7 L893.4,1117.9"/>
<path class="l" d="M862.6,1108.3 L876.4,1099.1"/>
<path class="l" d="M914.7,1092.3 L917.9,1114.7"/>
<path class="l" d="M920,1095.7 L945.5,1111.5"/>
<path class="l" d="M1017.9,1083.8 L1034.9,1100.4"/>
<path class="l" d="M1045.5,1081.1 L1045.5,1093.4"/>
<path class="l" d="M1103,1073.6 L1072.1,1089.8"/>
<path class="t" d="M1072.1,1089.8 L1081.7,1095.5" style="stroke-dasharray:2 1.5"/>
<path class="t" d="M1081.7,1095.5 L1115.7,1089.1" style="stroke-dasharray:2 1.5"/>
<ellipse class="l" cx="953" cy="1101.5" rx="3.2" ry="1.7" transform="rotate(-5 953 1101.5)"/>
<ellipse class="l" cx="971.5" cy="1099.4" rx="3.2" ry="1.7" transform="rotate(-5 971.5 1099.4)"/>
<ellipse class="l" cx="989.8" cy="1096.6" rx="3.2" ry="1.7" transform="rotate(-5 989.8 1096.6)"/>
<circle class="f" cx="1054" cy="1094.9" r="1"/>
<ellipse class="w" cx="972.8" cy="1137.6" rx="16" ry="6.4"/>
<ellipse class="w" cx="972.8" cy="1136" rx="16" ry="6.4"/>
<ellipse class="l" cx="972.8" cy="1136" rx="6.4" ry="2.6"/>
<ellipse class="t" cx="972.8" cy="1136.6" rx="3" ry="1.2"/>
<ellipse class="w" cx="972.1" cy="1175.4" rx="19.6" ry="8"/>
<ellipse class="w" cx="972.1" cy="1173.6" rx="19.6" ry="8"/>
<ellipse class="l" cx="972.1" cy="1173.6" rx="7.5" ry="3"/>
<ellipse class="t" cx="972.1" cy="1174.2" rx="3.2" ry="1.3"/>
<path d="M966.8,1208.9 L966.4,1242.3 L976.8,1242.3 L976.4,1208.9 Z" class="w"/>
<ellipse class="w" cx="971.5" cy="1208.9" rx="4.8" ry="1.9"/>
<path class="t" d="M966.4,1235.3 L976.8,1235.3"/>
<path class="k" d="M976.4,1211.5 L976.4,1232.8" style="stroke-width:1.3"/>
<ellipse class="w" cx="970.2" cy="1244.9" rx="10.6" ry="3.4"/>
<path class="w" d="M961.5,1246.8 L962.1,1254 L968.9,1256.6 L977.4,1254 L978.5,1246.8"/>
<path class="t" d="M968.9,1248.7 L968.9,1256.6"/>
<path class="t" d="M962.1,1254 L963,1248.1"/>
<ellipse class="w" cx="971.5" cy="1242.3" rx="5.2" ry="1.6"/>
<!-- wheels -->
<ellipse cx="630.8" cy="1054.2" rx="31" ry="40.7" transform="rotate(-17 630.8 1054.2)" fill="#fff" stroke="#1a1a1a" stroke-width="1.3"/>
<path d="M602.6,1019.4 L605.9,1017.3 L609.4,1015.8 L613.2,1014.9 L617.1,1014.6 L621,1014.9 L625,1015.8 L628.9,1017.3 L632.7,1019.3 L636.4,1021.9 L639.8,1025 L643,1028.5 L645.9,1032.4 L648.4,1036.7 L650.5,1041.2 L652.2,1046 L653.5,1050.9 L654.2,1055.8 L654.5,1060.8 L654.4,1065.6 L653.7,1070.3 L652.6,1074.8 L651,1079 L648.9,1082.8 L646.5,1086.3 L643.7,1089.2 L640.6,1091.7 L637.2,1093.6 L633.6,1094.9 L629.8,1095.7 L625.9,1095.8" fill="none" stroke="#1a1a1a" stroke-width="1.9" stroke-dasharray="2.6 1.9" stroke-dashoffset="0"/>
<path d="M605.7,1019 L609,1016.9 L612.6,1015.4 L616.3,1014.5 L620.2,1014.2 L624.1,1014.5 L628.1,1015.4 L632,1016.9 L635.8,1018.9 L639.5,1021.5 L643,1024.6 L646.1,1028.1 L649,1032 L651.5,1036.3 L653.6,1040.9 L655.3,1045.6 L656.6,1050.5 L657.4,1055.5 L657.7,1060.4 L657.5,1065.3 L656.8,1070 L655.7,1074.5 L654.1,1078.6 L652.1,1082.5 L649.7,1085.9 L646.9,1088.9 L643.8,1091.3 L640.4,1093.2 L636.8,1094.5 L633,1095.3 L629.1,1095.4" fill="none" stroke="#1a1a1a" stroke-width="2" stroke-dasharray="2.8 1.7" stroke-dashoffset="1.5"/>
<path d="M608.9,1018.6 L612.2,1016.6 L615.7,1015.1 L619.5,1014.1 L623.3,1013.8 L627.3,1014.1 L631.2,1015 L635.2,1016.5 L639,1018.5 L642.6,1021.1 L646.1,1024.2 L649.3,1027.7 L652.1,1031.7 L654.7,1035.9 L656.8,1040.5 L658.5,1045.2 L659.7,1050.1 L660.5,1055.1 L660.8,1060 L660.6,1064.9 L660,1069.6 L658.8,1074.1 L657.2,1078.3 L655.2,1082.1 L652.8,1085.5 L650,1088.5 L646.9,1090.9 L643.5,1092.8 L639.9,1094.2 L636.1,1094.9 L632.2,1095.1" fill="none" stroke="#1a1a1a" stroke-width="1.9" stroke-dasharray="2.6 1.9" stroke-dashoffset="3"/>
<ellipse cx="619.6" cy="1055.5" rx="32" ry="42" transform="rotate(-17 619.6 1055.5)" fill="#fff" stroke="#1a1a1a" stroke-width="1.6"/>
<path d="M645.5,1085.6 L640.9,1080.2 M640.3,1091.2 L636.6,1084.8 M634,1094.9 L631.4,1087.8 M626.9,1096.6 L625.6,1089.2 M619.5,1096.2 L619.5,1088.9 M612.1,1093.8 L613.5,1086.9 M605.1,1089.3 L607.7,1083.2 M598.8,1083.2 L602.5,1078.2 M593.6,1075.6 L598.3,1072 M589.7,1066.9 L595.1,1064.9 M587.3,1057.7 L593.1,1057.3 M586.6,1048.4 L592.6,1049.7 M587.6,1039.5 L593.4,1042.3 M590.3,1031.3 L595.5,1035.7 M594.4,1024.4 L598.9,1030 M599.8,1019.1 L603.4,1025.7 M606.3,1015.7 L608.7,1022.9 M613.4,1014.3 L614.5,1021.7 M620.8,1015 L620.6,1022.3 M628.2,1017.8 L626.7,1024.6 M635.1,1022.5 L632.4,1028.5 " fill="none" stroke="#222" stroke-width="1"/>
<ellipse cx="619.6" cy="1055.5" rx="26.2" ry="34.4" transform="rotate(-17 619.6 1055.5)" fill="#fff" stroke="#1a1a1a" stroke-width="1.3"/>
<ellipse class="l" cx="620.6" cy="1055.5" rx="24" ry="31.9" transform="rotate(-17 620.6 1055.5)"/>
<path class="l" d="M638.2,1074.6 C640,1076.1 636.4,1077.1 635.4,1078.2 C634.4,1079.2 633.3,1080.1 632.1,1080.9 C630.9,1081.6 629.6,1082.3 628.3,1082.7 C627,1083.1 625.6,1083.4 624.2,1083.5 C622.8,1083.6 621.4,1083.5 619.9,1083.3 C618.5,1083 617.1,1082.6 615.7,1082 C614.3,1081.5 612.8,1080.7 611.5,1079.8 C610.2,1078.9 606.3,1078.4 607.7,1076.7 C609,1075 617.3,1070.9 619.6,1069.4 C621.9,1067.8 620.8,1067.5 621.6,1067.4 C622.3,1067.4 621.4,1067.8 624.1,1069 C626.9,1070.2 636.3,1073.1 638.2,1074.6Z" style="stroke-width:1.2"/>
<path class="l" d="M634,1075.5 C634.8,1076.2 632.2,1077 631.3,1077.5 C630.4,1078 629.3,1078.5 628.3,1078.8 C627.3,1079.1 626.2,1079.3 625.1,1079.4 C624,1079.5 622.9,1079.4 621.8,1079.2 C620.7,1079.1 619.6,1078.8 618.5,1078.4 C617.4,1078 614.7,1077.6 615.2,1076.8 C615.8,1076 620.5,1074.4 621.9,1073.5 C623.4,1072.7 623.2,1072 623.9,1072 C624.7,1071.9 624.7,1072.6 626.4,1073.2 C628,1073.8 633.1,1074.8 634,1075.5Z"/>
<path class="l" d="M599.4,1063.8 C597.7,1064.8 598.3,1060.3 597.9,1058.5 C597.6,1056.7 597.3,1054.9 597.2,1053.1 C597.1,1051.3 597.2,1049.5 597.4,1047.8 C597.5,1046.1 597.8,1044.4 598.3,1042.8 C598.7,1041.2 599.3,1039.7 600,1038.3 C600.7,1036.9 601.5,1035.5 602.5,1034.4 C603.4,1033.2 604.4,1032.1 605.5,1031.2 C606.6,1030.3 608.4,1026.4 609.1,1029 C609.8,1031.6 609.7,1043.2 609.9,1046.7 C610.1,1050.2 610.8,1049.2 610.5,1050.1 C610.3,1051 610.3,1049.6 608.5,1051.9 C606.6,1054.2 601.2,1062.7 599.4,1063.8Z" style="stroke-width:1.2"/>
<path class="l" d="M602.5,1056.8 C601.7,1057.2 602.1,1054 602.1,1052.6 C602,1051.3 602.1,1049.9 602.3,1048.6 C602.4,1047.2 602.7,1045.9 603,1044.7 C603.4,1043.4 603.8,1042.2 604.3,1041.1 C604.9,1040 605.5,1039 606.2,1038 C606.8,1037.1 608.1,1034.3 608.4,1035.5 C608.8,1036.6 608.3,1042.8 608.3,1044.9 C608.3,1047 608.9,1047.2 608.7,1048 C608.4,1048.9 607.9,1048.5 606.9,1049.9 C605.8,1051.4 603.3,1056.3 602.5,1056.8Z"/>
<path class="l" d="M621.2,1028.2 C621.1,1025.5 624.1,1029.1 625.5,1029.9 C626.8,1030.6 628.2,1031.5 629.5,1032.5 C630.8,1033.5 632,1034.7 633.1,1036 C634.3,1037.3 635.3,1038.7 636.3,1040.2 C637.3,1041.7 638.1,1043.3 638.8,1044.9 C639.6,1046.6 640.2,1048.3 640.7,1050.1 C641.2,1051.8 641.5,1053.7 641.8,1055.4 C642,1057.2 644.1,1061.6 642,1060.8 C639.9,1060 631.9,1052.4 629.3,1050.4 C626.8,1048.5 627.2,1049.8 626.7,1049 C626.2,1048.2 627.1,1049 626.2,1045.6 C625.3,1042.1 621.3,1030.8 621.2,1028.2Z" style="stroke-width:1.2"/>
<path class="l" d="M627.2,1034.2 C627.1,1033 629.2,1035.5 630.2,1036.4 C631.2,1037.2 632.1,1038.1 633,1039.2 C633.9,1040.2 634.7,1041.3 635.4,1042.4 C636.2,1043.6 636.9,1044.8 637.4,1046.1 C638,1047.4 638.5,1048.7 638.9,1050.1 C639.4,1051.4 640.8,1054.5 639.9,1054.2 C639,1053.9 634.9,1049.4 633.4,1048.1 C631.9,1046.8 631.5,1047.3 631,1046.5 C630.5,1045.7 631,1045.4 630.4,1043.3 C629.7,1041.3 627.2,1035.3 627.2,1034.2Z"/>
<path class="t" d="M625.9,1059.2 L642.8,1069.3"/>
<path class="t" d="M614.7,1060 L601.4,1072.2"/>
<path class="t" d="M618.2,1047.3 L614.6,1025"/>
<ellipse class="wk" cx="619.6" cy="1055.5" rx="6.4" ry="8.4" transform="rotate(-17 619.6 1055.5)"/>
<ellipse class="l" cx="620.6" cy="1055.5" rx="4.2" ry="5.9" transform="rotate(-17 620.6 1055.5)"/>
<ellipse class="f" cx="620.9" cy="1055.5" rx="2.2" ry="3.4" transform="rotate(-17 620.9 1055.5)"/>
<ellipse cx="693" cy="993.8" rx="26.5" ry="32.5" transform="rotate(-8 693 993.8)" fill="#fff" stroke="#1a1a1a" stroke-width="1.5" stroke-dasharray="3.2 .7"/>
<ellipse cx="693" cy="993.8" rx="24.4" ry="29.9" transform="rotate(-8 693 993.8)" fill="none" stroke="#1a1a1a" stroke-width="1.4"/>
<path class="l" d="M711,1008.8 C711.6,1009.5 709.6,1011.2 708.8,1012.3 C707.9,1013.3 707,1014.3 706.1,1015.1 C705.1,1016 704,1016.8 702.9,1017.4 C701.8,1018 700.7,1018.5 699.5,1018.9 C698.3,1019.3 697.1,1019.5 695.9,1019.6 C694.7,1019.8 693.4,1019.7 692.2,1019.6 C690.9,1019.5 689.7,1019.2 688.5,1018.8 C687.3,1018.4 686.1,1017.8 684.9,1017.2 C683.8,1016.6 682.7,1015.8 681.6,1014.9 C680.6,1014 678.3,1012.8 678.7,1012 C679.1,1011.2 682.3,1010.8 684.2,1010.2 C686.1,1009.5 688.2,1008.8 689.9,1008.3 C691.6,1007.9 693,1007.5 694.5,1007.4 C696.1,1007.2 697.4,1007.3 699.2,1007.4 C701,1007.5 703.3,1007.9 705.2,1008.1 C707.2,1008.4 710.4,1008.1 711,1008.8Z" style="stroke:#151515;stroke-width:2"/>
<path class="t" d="M714.1,1006.8 C712.9,1008.5 709.9,1014.8 706.9,1017.3 C703.9,1019.8 699.8,1021.5 696.1,1021.9 C692.4,1022.3 688.1,1021.3 684.6,1019.5 C681.1,1017.6 676.8,1012.1 675.2,1010.6"/>
<path class="l" d="M674.2,1004.6 C673.4,1004.8 673.1,1001.8 672.7,1000.3 C672.3,998.9 672.1,997.3 671.9,995.9 C671.7,994.4 671.7,992.8 671.7,991.3 C671.8,989.8 671.9,988.3 672.2,986.9 C672.4,985.4 672.8,984 673.3,982.7 C673.7,981.3 674.3,980 675,978.8 C675.6,977.5 676.4,976.4 677.2,975.3 C678.1,974.3 679,973.3 679.9,972.5 C680.9,971.6 682,970.8 683.1,970.2 C684.2,969.6 686.1,967.8 686.5,968.7 C686.9,969.6 685.7,973.2 685.3,975.5 C684.9,977.8 684.5,980.5 684,982.6 C683.6,984.7 683.2,986.2 682.6,988 C682.1,989.7 681.4,991.1 680.5,992.9 C679.6,994.7 678.3,996.9 677.3,998.8 C676.2,1000.8 674.9,1004.3 674.2,1004.6Z" style="stroke:#151515;stroke-width:2"/>
<path class="t" d="M674.2,1009 C673.5,1006.7 670.4,1000.1 670,995.5 C669.6,991 670.1,985.8 671.6,981.7 C673,977.6 675.6,973.5 678.5,970.9 C681.4,968.2 687.3,966.6 689.1,965.8"/>
<path class="l" d="M693.8,968 C694,967.1 696.3,968.4 697.5,968.8 C698.7,969.2 699.9,969.8 701.1,970.4 C702.2,971 703.3,971.8 704.4,972.7 C705.4,973.6 706.4,974.6 707.3,975.6 C708.2,976.7 709.1,977.9 709.8,979.1 C710.6,980.3 711.3,981.7 711.8,983 C712.4,984.4 712.9,985.8 713.3,987.3 C713.7,988.7 713.9,990.3 714.1,991.7 C714.3,993.2 714.3,994.8 714.3,996.3 C714.2,997.8 714.6,1000.8 713.8,1000.7 C713,1000.6 711,997.4 709.5,995.7 C708,994 706.3,992.1 705,990.5 C703.8,988.9 702.8,987.7 701.8,986.1 C700.9,984.5 700.2,983 699.3,981.1 C698.4,979.2 697.4,976.6 696.5,974.4 C695.6,972.3 693.7,968.9 693.8,968Z" style="stroke:#151515;stroke-width:2"/>
<path class="t" d="M690.7,965.6 C692.6,966.1 698.7,966.5 702.1,968.6 C705.6,970.6 709,974.1 711.3,977.8 C713.6,981.6 715.3,986.5 715.9,991.1 C716.5,995.6 714.9,1002.7 714.7,1005"/>
<path class="t" d="M701.7,997.3 L714.7,1006.1"/>
<path class="t" d="M700.9,999.7 L714.7,1006.1"/>
<path class="t" d="M686.6,1001.1 L674.5,1010"/>
<path class="t" d="M685.2,998.9 L674.5,1010"/>
<path class="t" d="M690.7,983 L689.8,965.4"/>
<path class="t" d="M692.9,982.8 L689.8,965.4"/>
<ellipse cx="690.6" cy="995.8" rx="7.2" ry="8.1" transform="rotate(-8 690.6 995.8)" fill="#fff" stroke="#151515" stroke-width="1.7"/>
<path d="M693.8,988 a7.2,8.1 0 0 1 2.7,13.7" class="l"/>
<path class="t" d="M653.6,1025.1 L665.7,1015.1"/>
<circle cx="662.1" cy="1017.9" r="2.4" fill="#fff" stroke="#222" stroke-width="1.1"/>
<circle class="t" cx="662.1" cy="1017.9" r="1.1"/>
<path class="t" d="M630.2,1049.1 L649.4,1030"/>
<path class="t" d="M687.7,993.8 L706.8,977.9"/>
<ellipse cx="762.8" cy="1136.6" rx="20.2" ry="26.7" transform="rotate(-17 762.8 1136.6)" fill="#fff" stroke="#1a1a1a" stroke-width="1.3"/>
<path d="M744.5,1113.7 L746.7,1112.4 L749,1111.4 L751.4,1110.8 L753.9,1110.6 L756.5,1110.8 L759.1,1111.4 L761.6,1112.4 L764.1,1113.7 L766.5,1115.4 L768.8,1117.4 L770.8,1119.8 L772.7,1122.3 L774.4,1125.1 L775.7,1128.1 L776.8,1131.2 L777.7,1134.4 L778.2,1137.7 L778.4,1140.9 L778.3,1144.1 L777.8,1147.2 L777.1,1150.1 L776.1,1152.8 L774.8,1155.3 L773.2,1157.6 L771.4,1159.5 L769.4,1161.1 L767.2,1162.3 L764.8,1163.2 L762.4,1163.7 L759.8,1163.8" fill="none" stroke="#1a1a1a" stroke-width="1.9" stroke-dasharray="2.6 1.9" stroke-dashoffset="0"/>
<path d="M746.5,1113.5 L748.7,1112.2 L751,1111.2 L753.4,1110.6 L755.9,1110.4 L758.5,1110.6 L761.1,1111.2 L763.6,1112.2 L766.1,1113.5 L768.5,1115.2 L770.7,1117.2 L772.8,1119.5 L774.7,1122.1 L776.3,1124.9 L777.7,1127.9 L778.8,1131 L779.6,1134.2 L780.2,1137.4 L780.4,1140.7 L780.3,1143.8 L779.8,1146.9 L779.1,1149.9 L778.1,1152.6 L776.8,1155.1 L775.2,1157.3 L773.4,1159.3 L771.4,1160.9 L769.2,1162.1 L766.8,1163 L764.4,1163.5 L761.8,1163.5" fill="none" stroke="#1a1a1a" stroke-width="2" stroke-dasharray="2.8 1.7" stroke-dashoffset="1.5"/>
<path d="M748.5,1113.3 L750.6,1111.9 L753,1110.9 L755.4,1110.3 L757.9,1110.2 L760.5,1110.3 L763.1,1110.9 L765.6,1111.9 L768.1,1113.3 L770.5,1115 L772.7,1117 L774.8,1119.3 L776.7,1121.9 L778.3,1124.7 L779.7,1127.6 L780.8,1130.7 L781.6,1133.9 L782.1,1137.2 L782.3,1140.4 L782.2,1143.6 L781.8,1146.7 L781.1,1149.6 L780,1152.4 L778.7,1154.9 L777.2,1157.1 L775.4,1159 L773.3,1160.6 L771.1,1161.9 L768.8,1162.7 L766.3,1163.2 L763.8,1163.3" fill="none" stroke="#1a1a1a" stroke-width="1.9" stroke-dasharray="2.6 1.9" stroke-dashoffset="3"/>
<ellipse cx="755.7" cy="1137.4" rx="20.8" ry="27.5" transform="rotate(-17 755.7 1137.4)" fill="#fff" stroke="#1a1a1a" stroke-width="1.6"/>
<path d="M772.6,1157.1 L769.6,1153.6 M769.2,1160.8 L766.8,1156.6 M765.1,1163.2 L763.4,1158.6 M760.5,1164.3 L759.7,1159.5 M755.7,1164.1 L755.7,1159.3 M750.9,1162.4 L751.7,1157.9 M746.3,1159.5 L748,1155.5 M742.2,1155.5 L744.6,1152.2 M738.8,1150.5 L741.8,1148.1 M736.3,1144.8 L739.8,1143.5 M734.7,1138.8 L738.5,1138.6 M734.2,1132.7 L738.1,1133.6 M734.9,1126.9 L738.6,1128.8 M736.6,1121.5 L740,1124.4 M739.3,1117 L742.2,1120.7 M742.8,1113.6 L745.1,1117.9 M747,1111.3 L748.5,1116 M751.6,1110.4 L752.3,1115.3 M756.4,1110.9 L756.3,1115.7 M761.2,1112.7 L760.3,1117.2 M765.8,1115.8 L764,1119.7 " fill="none" stroke="#222" stroke-width="1"/>
<ellipse cx="755.7" cy="1137.4" rx="17.1" ry="22.5" transform="rotate(-17 755.7 1137.4)" fill="#fff" stroke="#1a1a1a" stroke-width="1.3"/>
<ellipse class="l" cx="756.3" cy="1137.4" rx="15.6" ry="20.9" transform="rotate(-17 756.3 1137.4)"/>
<path class="l" d="M767.8,1149.9 C769,1150.9 766.7,1151.6 766,1152.2 C765.4,1152.9 764.6,1153.5 763.9,1154 C763.1,1154.5 762.3,1154.9 761.4,1155.2 C760.5,1155.5 759.6,1155.7 758.7,1155.7 C757.8,1155.8 756.9,1155.7 756,1155.6 C755,1155.4 754.1,1155.1 753.2,1154.8 C752.3,1154.4 751.3,1153.9 750.5,1153.3 C749.6,1152.7 747.1,1152.4 748,1151.3 C748.8,1150.1 754.2,1147.5 755.7,1146.5 C757.2,1145.5 756.5,1145.3 757,1145.2 C757.5,1145.2 756.9,1145.5 758.7,1146.3 C760.5,1147 766.6,1148.9 767.8,1149.9Z" style="stroke-width:1.2"/>
<path class="l" d="M765.1,1150.5 C765.6,1151 763.9,1151.5 763.3,1151.8 C762.7,1152.2 762.1,1152.4 761.4,1152.7 C760.7,1152.9 760,1153 759.3,1153 C758.6,1153.1 757.9,1153 757.2,1152.9 C756.5,1152.8 755.7,1152.6 755,1152.4 C754.3,1152.1 752.5,1151.9 752.9,1151.4 C753.3,1150.8 756.3,1149.7 757.2,1149.2 C758.2,1148.7 758,1148.2 758.5,1148.2 C759,1148.1 759,1148.6 760.1,1149 C761.2,1149.4 764.5,1150.1 765.1,1150.5Z"/>
<path class="l" d="M742.6,1142.8 C741.4,1143.5 741.8,1140.5 741.6,1139.3 C741.4,1138.2 741.2,1137 741.1,1135.8 C741.1,1134.6 741.1,1133.5 741.2,1132.3 C741.3,1131.2 741.5,1130.1 741.8,1129.1 C742.1,1128 742.5,1127 742.9,1126.1 C743.4,1125.2 743.9,1124.3 744.5,1123.6 C745.1,1122.8 745.8,1122.1 746.5,1121.5 C747.2,1120.9 748.4,1118.4 748.8,1120 C749.3,1121.7 749.2,1129.3 749.4,1131.6 C749.5,1133.9 749.9,1133.3 749.8,1133.8 C749.6,1134.4 749.6,1133.5 748.4,1135 C747.2,1136.5 743.7,1142.1 742.6,1142.8Z" style="stroke-width:1.2"/>
<path class="l" d="M744.6,1138.2 C744,1138.5 744.3,1136.4 744.3,1135.5 C744.3,1134.6 744.3,1133.7 744.4,1132.8 C744.5,1132 744.7,1131.1 744.9,1130.3 C745.1,1129.5 745.4,1128.7 745.8,1128 C746.1,1127.3 746.5,1126.6 746.9,1126 C747.4,1125.3 748.2,1123.5 748.4,1124.3 C748.6,1125 748.3,1129.1 748.3,1130.4 C748.4,1131.8 748.7,1131.9 748.6,1132.5 C748.4,1133.1 748.1,1132.8 747.4,1133.7 C746.7,1134.7 745.1,1137.9 744.6,1138.2Z"/>
<path class="l" d="M756.7,1119.5 C756.6,1117.8 758.6,1120.2 759.5,1120.6 C760.4,1121.1 761.3,1121.7 762.1,1122.4 C762.9,1123 763.7,1123.8 764.5,1124.6 C765.2,1125.5 765.9,1126.4 766.5,1127.4 C767.2,1128.4 767.7,1129.4 768.2,1130.5 C768.7,1131.6 769.1,1132.7 769.4,1133.9 C769.7,1135 770,1136.2 770.1,1137.4 C770.3,1138.6 771.6,1141.4 770.3,1140.9 C768.9,1140.3 763.7,1135.4 762,1134.1 C760.4,1132.8 760.7,1133.7 760.3,1133.1 C760,1132.6 760.6,1133.2 760,1130.9 C759.4,1128.6 756.8,1121.2 756.7,1119.5Z" style="stroke-width:1.2"/>
<path class="l" d="M760.6,1123.4 C760.6,1122.7 761.9,1124.3 762.6,1124.9 C763.2,1125.4 763.8,1126.1 764.4,1126.7 C765,1127.4 765.5,1128.1 766,1128.9 C766.5,1129.6 766.9,1130.4 767.3,1131.3 C767.7,1132.1 768,1133 768.3,1133.9 C768.5,1134.8 769.5,1136.8 768.9,1136.6 C768.3,1136.4 765.6,1133.4 764.7,1132.6 C763.7,1131.7 763.4,1132 763.1,1131.5 C762.8,1131 763.1,1130.8 762.7,1129.4 C762.3,1128.1 760.6,1124.2 760.6,1123.4Z"/>
<path class="t" d="M759.8,1139.8 L770.8,1146.5"/>
<path class="t" d="M752.5,1140.3 L743.9,1148.3"/>
<path class="t" d="M754.8,1132 L752.4,1117.5"/>
<ellipse class="wk" cx="755.7" cy="1137.4" rx="4.2" ry="5.5" transform="rotate(-17 755.7 1137.4)"/>
<ellipse class="l" cx="756.3" cy="1137.4" rx="2.7" ry="3.9" transform="rotate(-17 756.3 1137.4)"/>
<ellipse class="f" cx="756.5" cy="1137.4" rx="1.5" ry="2.2" transform="rotate(-17 756.5 1137.4)"/>
<ellipse cx="808.9" cy="1092.8" rx="18.5" ry="22.5" transform="rotate(-8 808.9 1092.8)" fill="#fff" stroke="#1a1a1a" stroke-width="1.1" stroke-dasharray="3.2 .7"/>
<ellipse cx="808.9" cy="1092.8" rx="17" ry="20.7" transform="rotate(-8 808.9 1092.8)" fill="none" stroke="#1a1a1a" stroke-width="1"/>
<path class="l" d="M821.5,1103.2 C821.9,1103.7 820.5,1104.8 819.9,1105.6 C819.3,1106.3 818.7,1107 818,1107.6 C817.3,1108.2 816.6,1108.7 815.8,1109.1 C815,1109.5 814.2,1109.9 813.4,1110.2 C812.6,1110.4 811.7,1110.6 810.9,1110.7 C810,1110.8 809.2,1110.8 808.3,1110.7 C807.4,1110.6 806.6,1110.4 805.7,1110.1 C804.9,1109.8 804.1,1109.5 803.3,1109 C802.5,1108.6 801.7,1108 801,1107.4 C800.2,1106.8 798.6,1105.9 798.9,1105.4 C799.2,1104.8 801.4,1104.6 802.7,1104.1 C804.1,1103.7 805.5,1103.2 806.7,1102.9 C807.9,1102.5 808.9,1102.3 809.9,1102.2 C811,1102.1 812,1102.1 813.2,1102.2 C814.5,1102.3 816,1102.5 817.4,1102.7 C818.8,1102.9 821.1,1102.7 821.5,1103.2Z" style="stroke:#151515;stroke-width:1.4"/>
<path class="t" d="M823.6,1101.8 C822.8,1103 820.7,1107.3 818.6,1109.1 C816.5,1110.8 813.7,1112 811.1,1112.3 C808.5,1112.5 805.5,1111.9 803,1110.6 C800.6,1109.3 797.6,1105.5 796.5,1104.4"/>
<path class="l" d="M795.7,1100.3 C795.2,1100.4 795,1098.3 794.7,1097.3 C794.5,1096.3 794.3,1095.3 794.2,1094.2 C794.1,1093.2 794,1092.1 794,1091.1 C794.1,1090.1 794.2,1089 794.4,1088 C794.6,1087 794.8,1086 795.1,1085.1 C795.5,1084.2 795.9,1083.3 796.3,1082.4 C796.8,1081.6 797.3,1080.8 797.9,1080 C798.5,1079.3 799.1,1078.6 799.8,1078 C800.5,1077.4 801.2,1076.9 802,1076.5 C802.8,1076.1 804.1,1074.8 804.4,1075.4 C804.6,1076 803.8,1078.6 803.5,1080.2 C803.3,1081.8 803,1083.6 802.6,1085 C802.3,1086.5 802.1,1087.6 801.7,1088.8 C801.3,1089.9 800.8,1090.9 800.2,1092.2 C799.5,1093.4 798.7,1095 797.9,1096.3 C797.2,1097.7 796.3,1100.1 795.7,1100.3Z" style="stroke:#151515;stroke-width:1.4"/>
<path class="t" d="M795.8,1103.3 C795.3,1101.8 793.1,1097.2 792.8,1094 C792.5,1090.9 792.9,1087.3 793.9,1084.4 C794.9,1081.6 796.8,1078.8 798.8,1076.9 C800.8,1075.1 804.9,1074 806.2,1073.4"/>
<path class="l" d="M809.5,1074.9 C809.6,1074.3 811.2,1075.2 812.1,1075.5 C812.9,1075.8 813.7,1076.1 814.5,1076.6 C815.3,1077 816.1,1077.6 816.8,1078.2 C817.6,1078.8 818.3,1079.5 818.9,1080.2 C819.5,1080.9 820.1,1081.8 820.7,1082.6 C821.2,1083.5 821.7,1084.4 822.1,1085.3 C822.5,1086.3 822.8,1087.3 823.1,1088.3 C823.3,1089.3 823.5,1090.3 823.6,1091.4 C823.7,1092.4 823.8,1093.5 823.8,1094.5 C823.7,1095.5 824,1097.6 823.4,1097.6 C822.9,1097.5 821.4,1095.3 820.4,1094.1 C819.4,1092.9 818.2,1091.6 817.3,1090.5 C816.4,1089.4 815.7,1088.5 815.1,1087.5 C814.4,1086.4 813.9,1085.3 813.3,1084 C812.7,1082.7 812,1080.9 811.4,1079.4 C810.7,1077.9 809.4,1075.6 809.5,1074.9Z" style="stroke:#151515;stroke-width:1.4"/>
<path class="t" d="M807.3,1073.3 C808.6,1073.6 812.9,1073.9 815.3,1075.3 C817.7,1076.7 820.1,1079.1 821.7,1081.7 C823.3,1084.3 824.5,1087.8 824.9,1090.9 C825.3,1094 824.2,1098.9 824.1,1100.6"/>
<path class="t" d="M815,1095.2 L824,1101.3"/>
<path class="t" d="M814.4,1096.9 L824,1101.3"/>
<path class="t" d="M804.4,1097.9 L796,1104"/>
<path class="t" d="M803.5,1096.3 L796,1104"/>
<path class="t" d="M807.3,1085.3 L806.7,1073.1"/>
<path class="t" d="M808.8,1085.2 L806.7,1073.1"/>
<ellipse cx="807.2" cy="1094.2" rx="5" ry="5.6" transform="rotate(-8 807.2 1094.2)" fill="#fff" stroke="#151515" stroke-width="1.2"/>
<path d="M809.4,1088.8 a5,5.6 0 0 1 1.9,9.4" class="l"/>
<path class="t" d="M780.2,1114.7 L793,1104.9"/>
<circle cx="786" cy="1110.9" r="1.8" fill="#fff" stroke="#222" stroke-width="1.1"/>
<circle class="t" cx="786" cy="1110.9" r="0.8"/>
<path class="d" d="M716.4,1174.7 L740.9,1154.5"/>
<ellipse cx="407" cy="1258.2" rx="31" ry="41.2" transform="rotate(-12 407 1258.2)" fill="#fff" stroke="#1a1a1a" stroke-width="1.3"/>
<path d="M383.1,1221.3 L386.6,1219.5 L390.3,1218.3 L394.1,1217.7 L398,1217.8 L401.9,1218.4 L405.8,1219.7 L409.5,1221.5 L413.2,1223.9 L416.6,1226.9 L419.8,1230.3 L422.6,1234.1 L425.2,1238.4 L427.3,1242.9 L429.1,1247.7 L430.3,1252.6 L431.2,1257.6 L431.5,1262.7 L431.4,1267.7 L430.8,1272.6 L429.8,1277.3 L428.2,1281.7 L426.3,1285.8 L424,1289.4 L421.3,1292.7 L418.2,1295.4 L414.9,1297.6 L411.4,1299.2 L407.7,1300.2 L403.8,1300.6 L399.9,1300.4" fill="none" stroke="#1a1a1a" stroke-width="1.9" stroke-dasharray="2.6 1.9" stroke-dashoffset="0"/>
<path d="M385.8,1221 L389.3,1219.2 L393,1218 L396.8,1217.4 L400.7,1217.5 L404.6,1218.1 L408.4,1219.4 L412.2,1221.2 L415.9,1223.6 L419.3,1226.6 L422.5,1230 L425.3,1233.8 L427.9,1238 L430,1242.6 L431.7,1247.3 L433,1252.3 L433.9,1257.3 L434.2,1262.4 L434.1,1267.4 L433.5,1272.3 L432.4,1276.9 L430.9,1281.4 L429,1285.4 L426.7,1289.1 L424,1292.3 L420.9,1295.1 L417.6,1297.2 L414.1,1298.9 L410.4,1299.9 L406.5,1300.3 L402.6,1300.1" fill="none" stroke="#1a1a1a" stroke-width="2" stroke-dasharray="2.8 1.7" stroke-dashoffset="1.5"/>
<path d="M388.5,1220.6 L392,1218.9 L395.6,1217.7 L399.5,1217.1 L403.3,1217.1 L407.3,1217.8 L411.1,1219 L414.9,1220.9 L418.5,1223.3 L422,1226.2 L425.2,1229.6 L428,1233.5 L430.6,1237.7 L432.7,1242.2 L434.4,1247 L435.7,1251.9 L436.6,1257 L436.9,1262 L436.8,1267.1 L436.2,1271.9 L435.1,1276.6 L433.6,1281 L431.7,1285.1 L429.3,1288.8 L426.6,1292 L423.6,1294.7 L420.3,1296.9 L416.8,1298.5 L413.1,1299.6 L409.2,1300 L405.3,1299.8" fill="none" stroke="#1a1a1a" stroke-width="1.9" stroke-dasharray="2.6 1.9" stroke-dashoffset="3"/>
<ellipse cx="397.4" cy="1259.4" rx="32" ry="42.5" transform="rotate(-12 397.4 1259.4)" fill="#fff" stroke="#1a1a1a" stroke-width="1.6"/>
<path d="M420.7,1292.1 L416.5,1286.2 M415,1297.2 L411.8,1290.4 M408.4,1300.4 L406.4,1293 M401.2,1301.5 L400.5,1293.9 M393.9,1300.4 L394.5,1293 M386.7,1297.3 L388.6,1290.5 M380.1,1292.2 L383.2,1286.3 M374.3,1285.4 L378.5,1280.7 M369.7,1277.3 L374.7,1274 M366.6,1268.2 L372.1,1266.6 M365,1258.7 L370.9,1258.9 M365.1,1249.3 L370.9,1251.1 M366.9,1240.3 L372.4,1243.8 M370.2,1232.4 L375.1,1237.3 M374.9,1225.8 L379,1231.9 M380.8,1221 L383.8,1227.9 M387.5,1218.1 L389.3,1225.5 M394.7,1217.3 L395.2,1224.9 M402.1,1218.7 L401.2,1226 M409.2,1222.2 L407.1,1228.9 M415.7,1227.6 L412.4,1233.3 " fill="none" stroke="#222" stroke-width="1"/>
<ellipse cx="397.4" cy="1259.4" rx="26.2" ry="34.9" transform="rotate(-12 397.4 1259.4)" fill="#fff" stroke="#1a1a1a" stroke-width="1.3"/>
<ellipse class="l" cx="398.4" cy="1259.4" rx="24" ry="32.3" transform="rotate(-12 398.4 1259.4)"/>
<path class="l" d="M414.3,1280.3 C416,1282 412.3,1282.7 411.2,1283.7 C410.2,1284.6 408.9,1285.5 407.7,1286.1 C406.5,1286.8 405.1,1287.3 403.8,1287.6 C402.4,1287.9 401,1288.1 399.6,1288 C398.2,1288 396.8,1287.8 395.4,1287.4 C394,1287 392.6,1286.5 391.2,1285.8 C389.9,1285.1 388.5,1284.2 387.3,1283.2 C386,1282.1 382.2,1281.3 383.7,1279.7 C385.2,1278 393.8,1274.7 396.2,1273.4 C398.6,1272 397.6,1271.6 398.3,1271.6 C399.1,1271.6 398.1,1272 400.8,1273.4 C403.4,1274.9 412.5,1278.6 414.3,1280.3Z" style="stroke-width:1.2"/>
<path class="l" d="M410,1280.7 C410.8,1281.5 408.2,1282 407.2,1282.5 C406.2,1282.9 405.2,1283.3 404.1,1283.5 C403.1,1283.7 402,1283.8 400.9,1283.8 C399.8,1283.8 398.7,1283.6 397.6,1283.4 C396.5,1283.1 395.4,1282.7 394.4,1282.2 C393.3,1281.7 390.6,1281.1 391.3,1280.4 C391.9,1279.6 396.7,1278.3 398.2,1277.6 C399.7,1277 399.6,1276.2 400.3,1276.2 C401,1276.3 401,1277 402.6,1277.7 C404.3,1278.5 409.3,1279.9 410,1280.7Z"/>
<path class="l" d="M376.6,1265.9 C374.7,1266.8 375.8,1262.3 375.5,1260.4 C375.3,1258.6 375.2,1256.8 375.3,1255 C375.4,1253.2 375.5,1251.4 375.9,1249.7 C376.2,1247.9 376.7,1246.3 377.2,1244.7 C377.8,1243.1 378.5,1241.6 379.3,1240.3 C380.1,1238.9 381.1,1237.7 382.1,1236.6 C383.1,1235.5 384.2,1234.5 385.4,1233.7 C386.6,1232.9 388.7,1229.1 389.2,1231.8 C389.7,1234.4 388.5,1246.1 388.5,1249.7 C388.4,1253.2 389.1,1252.3 388.8,1253.1 C388.5,1254 388.6,1252.6 386.6,1254.8 C384.6,1256.9 378.4,1264.9 376.6,1265.9Z" style="stroke-width:1.2"/>
<path class="l" d="M380.2,1259 C379.4,1259.4 380.1,1256.2 380.2,1254.8 C380.3,1253.4 380.4,1252 380.7,1250.7 C381,1249.4 381.4,1248.1 381.8,1246.9 C382.2,1245.6 382.8,1244.5 383.4,1243.4 C384,1242.3 384.7,1241.3 385.5,1240.4 C386.2,1239.6 387.7,1236.9 388,1238.1 C388.2,1239.2 387.2,1245.4 387,1247.5 C386.9,1249.6 387.4,1249.9 387.1,1250.8 C386.8,1251.6 386.3,1251.1 385.2,1252.5 C384,1253.9 381.1,1258.6 380.2,1259Z"/>
<path class="l" d="M401.3,1232 C401.4,1229.4 404.1,1233.2 405.4,1234.1 C406.7,1235 408,1236 409.2,1237.1 C410.4,1238.3 411.5,1239.6 412.5,1241 C413.6,1242.4 414.5,1243.9 415.3,1245.5 C416.2,1247.1 416.9,1248.8 417.5,1250.5 C418.1,1252.2 418.5,1254.1 418.9,1255.9 C419.2,1257.7 419.4,1259.5 419.5,1261.4 C419.6,1263.2 421.3,1267.8 419.3,1266.8 C417.3,1265.7 409.9,1257.4 407.5,1255.2 C405.1,1253 405.5,1254.3 405.1,1253.5 C404.6,1252.6 405.5,1253.6 404.8,1250 C404.2,1246.4 401.2,1234.7 401.3,1232Z" style="stroke-width:1.2"/>
<path class="l" d="M406.7,1238.4 C406.8,1237.3 408.7,1240 409.6,1240.9 C410.5,1241.9 411.4,1242.9 412.2,1244 C412.9,1245.1 413.7,1246.3 414.3,1247.5 C414.9,1248.8 415.5,1250.1 416,1251.4 C416.5,1252.7 416.9,1254.1 417.2,1255.5 C417.5,1256.9 418.7,1260.2 417.8,1259.8 C416.9,1259.4 413.1,1254.5 411.8,1253 C410.4,1251.6 410,1252.1 409.6,1251.2 C409.1,1250.4 409.6,1250.1 409.2,1248 C408.7,1245.8 406.7,1239.6 406.7,1238.4Z"/>
<path class="t" d="M403.3,1263.7 L419.3,1275.4"/>
<path class="t" d="M392.1,1263.5 L377.9,1274.5"/>
<path class="t" d="M396.7,1251 L395,1228.2"/>
<ellipse class="wk" cx="397.4" cy="1259.4" rx="6.4" ry="8.5" transform="rotate(-12 397.4 1259.4)"/>
<ellipse class="l" cx="398.4" cy="1259.4" rx="4.2" ry="6" transform="rotate(-12 398.4 1259.4)"/>
<ellipse class="f" cx="398.7" cy="1259.4" rx="2.2" ry="3.4" transform="rotate(-12 398.7 1259.4)"/>
<ellipse cx="342.1" cy="1314.7" rx="27" ry="33.5" transform="rotate(-8 342.1 1314.7)" fill="#fff" stroke="#1a1a1a" stroke-width="1.5" stroke-dasharray="3.2 .7"/>
<ellipse cx="342.1" cy="1314.7" rx="24.8" ry="30.8" transform="rotate(-8 342.1 1314.7)" fill="none" stroke="#1a1a1a" stroke-width="1.4"/>
<path class="l" d="M360.5,1330.2 C361.1,1330.9 359.1,1332.7 358.2,1333.8 C357.4,1334.8 356.4,1335.8 355.4,1336.7 C354.4,1337.6 353.4,1338.4 352.3,1339 C351.1,1339.7 350,1340.2 348.8,1340.6 C347.6,1340.9 346.3,1341.2 345.1,1341.3 C343.8,1341.4 342.6,1341.4 341.3,1341.3 C340,1341.1 338.8,1340.8 337.5,1340.4 C336.3,1340 335.1,1339.5 333.9,1338.8 C332.8,1338.1 331.6,1337.3 330.6,1336.4 C329.5,1335.5 327.1,1334.2 327.5,1333.4 C328,1332.6 331.2,1332.2 333.2,1331.5 C335.1,1330.9 337.2,1330.1 339,1329.7 C340.7,1329.2 342.1,1328.8 343.7,1328.7 C345.2,1328.5 346.6,1328.6 348.5,1328.7 C350.3,1328.9 352.6,1329.2 354.6,1329.5 C356.6,1329.7 359.9,1329.5 360.5,1330.2Z" style="stroke:#151515;stroke-width:2"/>
<path class="t" d="M363.7,1328.1 C362.4,1329.9 359.3,1336.3 356.3,1338.9 C353.2,1341.5 349.1,1343.3 345.3,1343.7 C341.6,1344 337.2,1343.1 333.6,1341.1 C330,1339.2 325.6,1333.5 324,1332"/>
<path class="l" d="M322.9,1325.8 C322.1,1326 321.8,1322.9 321.4,1321.4 C321.1,1319.9 320.8,1318.3 320.6,1316.8 C320.4,1315.2 320.4,1313.7 320.4,1312.1 C320.4,1310.6 320.6,1309 320.9,1307.5 C321.1,1306.1 321.5,1304.6 322,1303.2 C322.5,1301.8 323,1300.4 323.7,1299.2 C324.4,1297.9 325.1,1296.7 326,1295.6 C326.8,1294.6 327.8,1293.6 328.8,1292.7 C329.8,1291.8 330.8,1291 331.9,1290.4 C333.1,1289.7 335,1287.9 335.4,1288.8 C335.8,1289.7 334.6,1293.5 334.2,1295.9 C333.8,1298.2 333.4,1301 332.9,1303.1 C332.5,1305.3 332.1,1306.9 331.5,1308.7 C330.9,1310.4 330.3,1311.9 329.3,1313.7 C328.4,1315.6 327.2,1317.9 326.1,1319.9 C325,1321.9 323.7,1325.5 322.9,1325.8Z" style="stroke:#151515;stroke-width:2"/>
<path class="t" d="M323,1330.3 C322.3,1328 319.1,1321.1 318.7,1316.5 C318.2,1311.8 318.8,1306.4 320.2,1302.2 C321.7,1297.9 324.3,1293.8 327.3,1291 C330.2,1288.3 336.2,1286.7 338,1285.8"/>
<path class="l" d="M342.9,1288.1 C343.1,1287.2 345.4,1288.6 346.7,1289 C347.9,1289.4 349.1,1289.9 350.3,1290.6 C351.4,1291.3 352.6,1292.1 353.6,1293 C354.7,1293.9 355.7,1294.9 356.7,1296 C357.6,1297.1 358.5,1298.3 359.2,1299.6 C360,1300.9 360.7,1302.2 361.3,1303.6 C361.9,1305 362.4,1306.5 362.8,1308 C363.1,1309.5 363.4,1311.1 363.6,1312.6 C363.8,1314.2 363.8,1315.7 363.8,1317.3 C363.8,1318.8 364.1,1322 363.3,1321.9 C362.5,1321.8 360.4,1318.5 358.9,1316.7 C357.4,1314.9 355.7,1313 354.4,1311.3 C353.1,1309.7 352.1,1308.4 351.1,1306.8 C350.1,1305.1 349.4,1303.6 348.5,1301.6 C347.6,1299.6 346.6,1297 345.6,1294.8 C344.7,1292.5 342.7,1289.1 342.9,1288.1Z" style="stroke:#151515;stroke-width:2"/>
<path class="t" d="M339.7,1285.7 C341.6,1286.2 347.9,1286.6 351.4,1288.7 C354.9,1290.8 358.4,1294.4 360.7,1298.3 C363.1,1302.1 364.8,1307.3 365.4,1311.9 C366,1316.6 364.5,1323.9 364.3,1326.3"/>
<path class="t" d="M351,1318.3 L364.2,1327.4"/>
<path class="t" d="M350.2,1320.8 L364.2,1327.4"/>
<path class="t" d="M335.6,1322.2 L323.3,1331.3"/>
<path class="t" d="M334.2,1319.9 L323.3,1331.3"/>
<path class="t" d="M339.7,1303.6 L338.8,1285.4"/>
<path class="t" d="M342,1303.4 L338.8,1285.4"/>
<ellipse cx="339.7" cy="1316.7" rx="7.3" ry="8.4" transform="rotate(-8 339.7 1316.7)" fill="#fff" stroke="#151515" stroke-width="1.7"/>
<path d="M342.9,1308.7 a7.3,8.4 0 0 1 2.7,14.1" class="l"/>
<circle cx="369.8" cy="1291.3" r="2.2" fill="#fff" stroke="#222" stroke-width="1.1"/>
<circle class="t" cx="369.8" cy="1291.3" r="1"/>
<path class="t" d="M363.4,1296.6 L375.1,1287"/>
<path class="t" d="M400.6,1258.3 L383.6,1275.3"/>
<ellipse cx="586.7" cy="1297.8" rx="20.2" ry="27.1" transform="rotate(-12 586.7 1297.8)" fill="#fff" stroke="#1a1a1a" stroke-width="1.3"/>
<path d="M570.3,1273.6 L572.6,1272.5 L574.9,1271.7 L577.4,1271.3 L579.9,1271.4 L582.5,1271.8 L585,1272.6 L587.5,1273.8 L589.8,1275.4 L592.1,1277.4 L594.1,1279.6 L596,1282.1 L597.7,1284.9 L599.1,1287.9 L600.2,1291 L601,1294.2 L601.6,1297.6 L601.8,1300.9 L601.8,1304.2 L601.4,1307.4 L600.7,1310.4 L599.7,1313.3 L598.5,1316 L596.9,1318.4 L595.2,1320.5 L593.2,1322.3 L591.1,1323.7 L588.8,1324.8 L586.4,1325.5 L583.9,1325.7 L581.3,1325.6" fill="none" stroke="#1a1a1a" stroke-width="1.9" stroke-dasharray="2.6 1.9" stroke-dashoffset="0"/>
<path d="M572.3,1273.4 L574.6,1272.2 L577,1271.5 L579.5,1271.1 L582,1271.1 L584.5,1271.5 L587,1272.4 L589.5,1273.6 L591.9,1275.2 L594.1,1277.1 L596.2,1279.4 L598.1,1281.9 L599.7,1284.7 L601.1,1287.6 L602.2,1290.8 L603.1,1294 L603.6,1297.3 L603.9,1300.6 L603.8,1303.9 L603.4,1307.1 L602.7,1310.2 L601.8,1313.1 L600.5,1315.8 L599,1318.2 L597.2,1320.3 L595.3,1322.1 L593.1,1323.5 L590.8,1324.6 L588.4,1325.2 L585.9,1325.5 L583.4,1325.3" fill="none" stroke="#1a1a1a" stroke-width="2" stroke-dasharray="2.8 1.7" stroke-dashoffset="1.5"/>
<path d="M574.4,1273.2 L576.6,1272 L579,1271.2 L581.5,1270.8 L584,1270.9 L586.6,1271.3 L589.1,1272.1 L591.5,1273.4 L593.9,1274.9 L596.1,1276.9 L598.2,1279.1 L600.1,1281.6 L601.7,1284.4 L603.1,1287.4 L604.3,1290.5 L605.1,1293.8 L605.7,1297.1 L605.9,1300.4 L605.8,1303.7 L605.5,1306.9 L604.8,1309.9 L603.8,1312.8 L602.5,1315.5 L601,1317.9 L599.3,1320 L597.3,1321.8 L595.2,1323.3 L592.9,1324.3 L590.4,1325 L587.9,1325.2 L585.4,1325.1" fill="none" stroke="#1a1a1a" stroke-width="1.9" stroke-dasharray="2.6 1.9" stroke-dashoffset="3"/>
<ellipse cx="579.4" cy="1298.7" rx="20.8" ry="27.9" transform="rotate(-12 579.4 1298.7)" fill="#fff" stroke="#1a1a1a" stroke-width="1.6"/>
<path d="M594.6,1320.2 L591.9,1316.3 M590.9,1323.5 L588.8,1319.1 M586.6,1325.6 L585.3,1320.8 M581.9,1326.3 L581.5,1321.4 M577.2,1325.6 L577.6,1320.8 M572.5,1323.5 L573.7,1319.1 M568.2,1320.2 L570.2,1316.3 M564.4,1315.7 L567.1,1312.7 M561.4,1310.4 L564.7,1308.3 M559.4,1304.4 L563,1303.4 M558.4,1298.2 L562.1,1298.3 M558.4,1292 L562.2,1293.2 M559.5,1286.2 L563.1,1288.4 M561.7,1280.9 L564.9,1284.1 M564.7,1276.6 L567.4,1280.6 M568.5,1273.5 L570.5,1278 M572.9,1271.6 L574.1,1276.5 M577.6,1271.1 L577.9,1276.1 M582.4,1272 L581.8,1276.8 M587,1274.3 L585.6,1278.7 M591.3,1277.8 L589.1,1281.6 " fill="none" stroke="#222" stroke-width="1"/>
<ellipse cx="579.4" cy="1298.7" rx="17.1" ry="22.9" transform="rotate(-12 579.4 1298.7)" fill="#fff" stroke="#1a1a1a" stroke-width="1.3"/>
<ellipse class="l" cx="580" cy="1298.7" rx="15.6" ry="21.2" transform="rotate(-12 580 1298.7)"/>
<path class="l" d="M590.4,1312.4 C591.5,1313.6 589.1,1314 588.4,1314.6 C587.7,1315.3 586.9,1315.8 586.1,1316.2 C585.3,1316.7 584.5,1317 583.6,1317.2 C582.7,1317.4 581.8,1317.5 580.9,1317.5 C580,1317.5 579,1317.3 578.1,1317.1 C577.2,1316.8 576.3,1316.5 575.4,1316 C574.5,1315.5 573.7,1314.9 572.8,1314.3 C572,1313.6 569.6,1313.1 570.5,1312 C571.5,1310.9 577.1,1308.7 578.6,1307.9 C580.2,1307 579.5,1306.7 580,1306.7 C580.5,1306.7 579.9,1307 581.6,1307.9 C583.3,1308.9 589.3,1311.3 590.4,1312.4Z" style="stroke-width:1.2"/>
<path class="l" d="M587.6,1312.7 C588.1,1313.2 586.4,1313.6 585.8,1313.9 C585.2,1314.2 584.5,1314.4 583.8,1314.5 C583.1,1314.7 582.4,1314.7 581.7,1314.7 C581,1314.7 580.3,1314.6 579.6,1314.4 C578.9,1314.3 578.1,1314 577.5,1313.7 C576.8,1313.3 575,1312.9 575.4,1312.4 C575.8,1311.9 579,1311.1 579.9,1310.7 C580.9,1310.2 580.8,1309.7 581.3,1309.8 C581.8,1309.8 581.8,1310.2 582.8,1310.7 C583.9,1311.2 587.1,1312.2 587.6,1312.7Z"/>
<path class="l" d="M565.9,1302.9 C564.7,1303.5 565.3,1300.6 565.2,1299.4 C565,1298.2 565,1296.9 565,1295.8 C565.1,1294.6 565.2,1293.4 565.4,1292.3 C565.6,1291.2 565.9,1290 566.3,1289 C566.6,1288 567.1,1287 567.6,1286.1 C568.2,1285.2 568.8,1284.4 569.4,1283.7 C570.1,1283 570.8,1282.3 571.6,1281.8 C572.4,1281.3 573.7,1278.8 574,1280.6 C574.4,1282.3 573.6,1290 573.6,1292.3 C573.5,1294.6 574,1294 573.8,1294.6 C573.6,1295.1 573.7,1294.2 572.4,1295.6 C571,1297 567.1,1302.3 565.9,1302.9Z" style="stroke-width:1.2"/>
<path class="l" d="M568.2,1298.4 C567.7,1298.7 568.1,1296.6 568.2,1295.6 C568.3,1294.7 568.4,1293.8 568.5,1293 C568.7,1292.1 568.9,1291.2 569.2,1290.4 C569.5,1289.7 569.9,1288.9 570.3,1288.2 C570.7,1287.5 571.1,1286.8 571.6,1286.2 C572.1,1285.7 573.1,1283.9 573.2,1284.7 C573.4,1285.5 572.7,1289.5 572.6,1290.9 C572.6,1292.3 572.9,1292.5 572.7,1293 C572.5,1293.6 572.2,1293.2 571.5,1294.1 C570.7,1295 568.8,1298.2 568.2,1298.4Z"/>
<path class="l" d="M581.9,1280.7 C582,1279 583.7,1281.5 584.6,1282.1 C585.4,1282.7 586.3,1283.3 587,1284.1 C587.8,1284.8 588.6,1285.7 589.2,1286.6 C589.9,1287.5 590.5,1288.5 591.1,1289.6 C591.6,1290.6 592.1,1291.8 592.4,1292.9 C592.8,1294 593.1,1295.2 593.4,1296.4 C593.6,1297.6 593.7,1298.8 593.8,1300 C593.8,1301.2 594.9,1304.2 593.6,1303.6 C592.3,1302.9 587.5,1297.4 586,1296 C584.4,1294.5 584.7,1295.4 584.4,1294.8 C584.1,1294.2 584.6,1294.9 584.2,1292.5 C583.8,1290.2 581.9,1282.5 581.9,1280.7Z" style="stroke-width:1.2"/>
<path class="l" d="M585.4,1285 C585.5,1284.2 586.7,1286 587.3,1286.6 C587.9,1287.2 588.5,1287.9 589,1288.6 C589.5,1289.3 590,1290.1 590.4,1290.9 C590.8,1291.7 591.2,1292.6 591.5,1293.5 C591.8,1294.4 592,1295.3 592.2,1296.2 C592.4,1297.1 593.2,1299.3 592.6,1299 C592.1,1298.7 589.6,1295.5 588.7,1294.5 C587.8,1293.6 587.6,1293.9 587.3,1293.3 C587,1292.8 587.3,1292.6 587,1291.2 C586.7,1289.8 585.4,1285.7 585.4,1285Z"/>
<path class="t" d="M583.3,1301.5 L593.7,1309.2"/>
<path class="t" d="M576,1301.4 L566.7,1308.6"/>
<path class="t" d="M579,1293.2 L577.8,1278.3"/>
<ellipse class="wk" cx="579.4" cy="1298.7" rx="4.2" ry="5.6" transform="rotate(-12 579.4 1298.7)"/>
<ellipse class="l" cx="580" cy="1298.7" rx="2.7" ry="3.9" transform="rotate(-12 580 1298.7)"/>
<ellipse class="f" cx="580.2" cy="1298.7" rx="1.5" ry="2.2" transform="rotate(-12 580.2 1298.7)"/>
<ellipse cx="538.9" cy="1340.6" rx="18.5" ry="23.5" transform="rotate(-8 538.9 1340.6)" fill="#fff" stroke="#1a1a1a" stroke-width="1.1" stroke-dasharray="3.2 .7"/>
<ellipse cx="538.9" cy="1340.6" rx="17" ry="21.6" transform="rotate(-8 538.9 1340.6)" fill="none" stroke="#1a1a1a" stroke-width="1"/>
<path class="l" d="M551.5,1351.5 C552,1352 550.6,1353.2 550,1354 C549.4,1354.8 548.8,1355.5 548.1,1356.1 C547.4,1356.7 546.7,1357.2 545.9,1357.7 C545.2,1358.1 544.3,1358.5 543.5,1358.7 C542.7,1359 541.9,1359.2 541,1359.3 C540.2,1359.4 539.3,1359.3 538.4,1359.2 C537.6,1359.1 536.7,1358.9 535.8,1358.6 C535,1358.3 534.2,1357.9 533.4,1357.5 C532.6,1357 531.8,1356.4 531,1355.8 C530.3,1355.2 528.7,1354.3 529,1353.7 C529.3,1353.1 531.5,1352.8 532.8,1352.4 C534.1,1352 535.6,1351.4 536.8,1351.1 C538,1350.8 538.9,1350.5 540,1350.4 C541.1,1350.3 542,1350.4 543.3,1350.5 C544.5,1350.6 546.1,1350.8 547.5,1351 C548.9,1351.2 551.1,1351 551.5,1351.5Z" style="stroke:#151515;stroke-width:1.4"/>
<path class="t" d="M553.7,1350.1 C552.9,1351.3 550.8,1355.8 548.7,1357.6 C546.6,1359.4 543.8,1360.7 541.2,1360.9 C538.6,1361.2 535.6,1360.5 533.1,1359.1 C530.7,1357.7 527.6,1353.7 526.5,1352.7"/>
<path class="l" d="M525.8,1348.3 C525.2,1348.5 525,1346.3 524.8,1345.2 C524.5,1344.2 524.3,1343.1 524.2,1342 C524,1340.9 524,1339.8 524,1338.7 C524,1337.7 524.2,1336.6 524.3,1335.5 C524.5,1334.5 524.8,1333.5 525.1,1332.5 C525.4,1331.5 525.8,1330.6 526.3,1329.7 C526.7,1328.8 527.2,1328 527.8,1327.2 C528.4,1326.4 529,1325.7 529.7,1325.1 C530.4,1324.5 531.1,1324 531.9,1323.5 C532.6,1323.1 534,1321.8 534.3,1322.5 C534.5,1323.1 533.7,1325.7 533.5,1327.4 C533.2,1329 532.9,1331 532.6,1332.5 C532.3,1334 532.1,1335.1 531.6,1336.3 C531.2,1337.6 530.8,1338.6 530.2,1339.9 C529.5,1341.2 528.7,1342.8 527.9,1344.2 C527.2,1345.6 526.3,1348.1 525.8,1348.3Z" style="stroke:#151515;stroke-width:1.4"/>
<path class="t" d="M525.8,1351.5 C525.3,1349.9 523.2,1345.1 522.8,1341.8 C522.5,1338.5 522.9,1334.7 523.9,1331.8 C524.9,1328.8 526.7,1325.9 528.7,1324 C530.7,1322.1 534.8,1321 536.1,1320.4"/>
<path class="l" d="M539.4,1322 C539.5,1321.3 541.1,1322.3 542,1322.6 C542.8,1322.9 543.6,1323.3 544.4,1323.7 C545.2,1324.2 546,1324.8 546.8,1325.4 C547.5,1326 548.2,1326.7 548.8,1327.5 C549.5,1328.3 550.1,1329.1 550.6,1330 C551.1,1330.9 551.6,1331.9 552,1332.9 C552.4,1333.9 552.8,1334.9 553,1336 C553.3,1337 553.5,1338.1 553.6,1339.2 C553.8,1340.3 553.8,1341.4 553.8,1342.5 C553.8,1343.5 554,1345.7 553.5,1345.7 C552.9,1345.6 551.5,1343.3 550.4,1342 C549.4,1340.8 548.2,1339.4 547.3,1338.3 C546.4,1337.1 545.7,1336.2 545,1335.1 C544.4,1333.9 543.9,1332.8 543.3,1331.4 C542.6,1330 541.9,1328.2 541.3,1326.6 C540.6,1325 539.3,1322.6 539.4,1322Z" style="stroke:#151515;stroke-width:1.4"/>
<path class="t" d="M537.2,1320.2 C538.5,1320.6 542.8,1320.9 545.2,1322.4 C547.6,1323.9 550,1326.4 551.6,1329.1 C553.3,1331.8 554.5,1335.4 554.9,1338.7 C555.3,1342 554.3,1347.1 554.1,1348.8"/>
<path class="t" d="M545,1343.2 L554.1,1349.5"/>
<path class="t" d="M544.4,1344.9 L554.1,1349.5"/>
<path class="t" d="M534.4,1345.9 L526,1352.2"/>
<path class="t" d="M533.5,1344.3 L526,1352.2"/>
<path class="t" d="M537.2,1332.8 L536.6,1320.1"/>
<path class="t" d="M538.8,1332.6 L536.6,1320.1"/>
<ellipse cx="537.2" cy="1342" rx="5" ry="5.9" transform="rotate(-8 537.2 1342)" fill="#fff" stroke="#151515" stroke-width="1.2"/>
<path d="M539.5,1336.4 a5,5.9 0 0 1 1.9,9.9" class="l"/>
<circle cx="556.4" cy="1323" r="1.7" fill="#fff" stroke="#222" stroke-width="1.1"/>
<circle class="t" cx="556.4" cy="1323" r="0.8"/>
<path class="t" d="M552.1,1326.6 L563.8,1317.2"/>
<circle cx="608.1" cy="1273.4" r="3" fill="#fff" stroke="#222" stroke-width="1"/>
<path class="t" d="M600,1280.4 L606.4,1275.1"/>
<!-- chassis parts -->
<path class="l" d="M528.3,1130.6 L552.8,1105.1"/>
<path class="l" d="M533.6,1136 L560.2,1108.9"/>
<path class="l" d="M552.8,1105.1 C553.3,1104.7 554.8,1103 556,1102.6 C557.2,1102.2 558.9,1102.3 560.2,1102.6 C561.5,1102.9 563.2,1104.2 563.8,1104.5"/>
<path class="l" d="M560.2,1108.9 C560.6,1108.6 562.2,1106.6 562.8,1106.8 C563.4,1107 563.6,1109.6 563.8,1110.2"/>
<path class="l" d="M563.8,1104.5 L680.9,1144.3" style="stroke-dasharray:1.6 1.4;stroke-width:1.4"/>
<path class="l" d="M563.8,1110.2 L676.2,1150.6"/>
<path class="l" d="M680.9,1144.3 C681.7,1145.1 685.6,1148.2 687.2,1150.6 C688.8,1153 691.3,1159.7 692.6,1162.3 C693.9,1164.9 696.2,1168.8 696.8,1169.8"/>
<path class="l" d="M676.2,1150.6 C677,1151.3 680.4,1153.9 681.9,1156 C683.4,1158.1 685.9,1164.5 687.2,1166.6 C688.5,1168.7 690.9,1171.2 691.5,1171.9"/>
<ellipse class="l" cx="694" cy="1170.9" rx="3" ry="1.6" transform="rotate(-40 694 1170.9)"/>
<circle class="t" cx="592.6" cy="1117.7" r="0.8"/>
<circle class="f" cx="536.8" cy="1121.7" r="0.8"/>
<circle cx="568.7" cy="1096.2" r="3.2" fill="#fff" stroke="#222" stroke-width="1.1"/>
<circle class="t" cx="568.7" cy="1096.2" r="1.4"/>
<path class="l" d="M566.6,1099.8 L564.5,1103.4"/>
<circle cx="584.7" cy="1083.2" r="2.6" fill="#fff" stroke="#222" stroke-width="1"/>
<circle class="t" cx="584.7" cy="1083.2" r="1.6"/>
<path class="w" d="M500.6,1145.5 L511.3,1138.1 L521.9,1136 L525.1,1142.3 L523,1156.2 L516.6,1160.4 L511.3,1156.2 L502.8,1149.8Z"/>
<ellipse class="w" cx="503.8" cy="1147.7" rx="3.2" ry="2.2" transform="rotate(-40 503.8 1147.7)"/>
<circle class="t" cx="517.2" cy="1155.7" r="1.5"/>
<path class="l" d="M524,1145.5 L530.4,1143.4 L528.3,1151.9 L524,1153 L523,1158.3"/>
<circle class="wk" cx="525.1" cy="1136.6" r="2.2"/>
<circle class="l" cx="530.4" cy="1134.5" r="1.5"/>
<circle class="f" cx="516" cy="1142.3" r="0.7"/>
<circle class="f" cx="518.7" cy="1146.6" r="0.7"/>
<circle class="f" cx="517.2" cy="1150.2" r="0.7"/>
<path class="l" d="M499.6,1147.2 L450.6,1196.2"/>
<path class="l" d="M504.9,1150.9 L457,1199.1"/>
<circle class="f" cx="465.5" cy="1185.5" r="0.8"/>
<path class="w" d="M435.7,1205.1 L438.9,1201.9 L451.7,1194.5 L454.9,1195.5 L460.2,1205.5 L458.1,1208.3 L444.3,1214.7 L438.9,1212.6Z"/>
<path class="t" d="M451.7,1194.5 L456,1205.1 L444.3,1214.7"/>
<circle class="l" cx="440" cy="1206.8" r="2"/>
<circle class="t" cx="452.8" cy="1197.7" r="1"/>
<circle class="t" cx="454.9" cy="1205.5" r="1"/>
<path class="t" d="M457,1199.1 L466.6,1194.5 L460.2,1205.5"/>
<path class="w" d="M450.6,1212.6 L456,1215.7 L454.3,1220 L448.5,1217.4Z"/>
<path class="l" d="M449.1,1218.3 L441.5,1225.3"/>
<path class="l" d="M451.7,1220.4 L443.6,1227.4"/>
<ellipse class="w" cx="442.1" cy="1226.8" rx="1.6" ry="2" transform="rotate(40 442.1 1226.8)"/>
<circle cx="436.4" cy="1230.2" r="2.8" fill="#fff" stroke="#222" stroke-width="1"/>
<circle cx="499.6" cy="1165.7" r="3" fill="#fff" stroke="#222" stroke-width="1.1"/>
<circle class="t" cx="499.6" cy="1165.7" r="1.4"/>
<path class="w" d="M477.2,1038.1 L482.6,1039.1 L481.9,1044.5 L479.4,1045.1 L479.8,1060.4 L477.2,1061.5 L478.3,1083.8 L467.7,1109.4 L464,1110.4 L460.2,1119.6 L456,1118.3 L460.2,1109.4 L463.4,1108.3 L474.7,1083.8 L474.7,1043.4 L477.2,1042.3Z"/>
<circle class="t" cx="479.4" cy="1041.3" r="0.8"/>
<circle class="t" cx="459.1" cy="1116.8" r="1.1"/>
<circle class="t" cx="461.9" cy="1111.9" r="0.8"/>
<path class="l" d="M454.3,1035.3 C455.5,1035 458.9,1033 461.3,1033.2 C463.7,1033.4 467.5,1036 468.7,1036.6"/>
<path class="l" d="M454.3,1035.3 L456,1072.8"/>
<path class="l" d="M468.7,1036.6 L465.5,1072.8"/>
<path class="l" d="M456,1072.8 C456.8,1073.1 459,1074.5 460.6,1074.5 C462.2,1074.5 464.7,1073.1 465.5,1072.8"/>
<path class="k" d="M458.1,1041.3 L462.8,1058.3 L459.1,1060.4" style="stroke-width:1.2"/>
<path class="t" d="M460.2,1040.2 L464.5,1057.2"/>
<path d="M492.6,1020 L502.8,1015.7 L505.3,1024.3 L499.6,1055.1 L492.1,1055.1 Z" fill="#fff" stroke="#151515" stroke-width="1.6" stroke-linejoin="round"/>
<path class="k" d="M495.3,1022.1 L497.4,1051.9"/>
<path class="k" d="M499.6,1026.4 L502.8,1032.8 L499.6,1041.3"/>
<path class="k" d="M493.2,1045.5 L499.6,1047.7"/>
<circle class="f" cx="509.6" cy="1028.9" r="1.1"/>
<circle class="f" cx="509.1" cy="1046.6" r="1.1"/>
<path class="w" d="M419.8,1143 L428.3,1131.1 L436.8,1131.5 L442.1,1138.3 L438.9,1150.2 L430.9,1156.2Z"/>
<circle class="f" cx="433" cy="1138.7" r="0.8"/>
<circle class="f" cx="436.4" cy="1134.9" r="0.8"/>
<path class="t" d="M433,1138.7 L438.9,1134.9"/>
<circle class="wk" cx="446.4" cy="1120" r="2.6"/>
<circle class="f" cx="446.4" cy="1120" r="1"/>
<circle cx="448.5" cy="1134.9" r="2.2" fill="#fff" stroke="#222" stroke-width="1.3"/>
<circle cx="458.1" cy="1140.2" r="2.2" fill="#fff" stroke="#222" stroke-width="1.3"/>
<circle cx="417.7" cy="1150.9" r="2" fill="#fff" stroke="#222" stroke-width="1.2"/>
<circle cx="424" cy="1157.9" r="2" fill="#fff" stroke="#222" stroke-width="1.2"/>
<path class="t" d="M419.8,1149.4 L426.2,1145.5"/>
<path class="t" d="M426.2,1156.2 L432.1,1152.3"/>
<circle cx="403.2" cy="1165.1" r="1.8" fill="#fff" stroke="#222" stroke-width="0.9"/>
<circle cx="406.2" cy="1160.6" r="1.8" fill="#fff" stroke="#222" stroke-width="0.9"/>
<path class="d" d="M443.2,1126.4 L460.2,1116.8"/>
<path class="l" d="M411.3,1158.3 L453.8,1192.3"/>
<path class="l" d="M421.9,1159.4 L438.9,1173.2"/>
<path class="d" d="M438.9,1173.2 L466.6,1194.9"/>
<path d="M583.4,1133.2 L621.7,1142.8" stroke="#2a2a2a" stroke-width="3.3" fill="none"/>
<path class="l" d="M580.9,1130.9 L622.3,1140.6"/>
<path class="l" d="M621.7,1143.2 C622.5,1143.6 625.6,1145 626.6,1145.7 C627.6,1146.4 627.8,1147 627.7,1147.4 C627.6,1147.8 626.3,1147.8 626,1147.9"/>
<path class="w" d="M669.1,1183.6 L672.8,1190.4 L680.9,1194.7 L692.6,1193.8 L698.9,1198.1 L696.8,1201.7 L691.5,1203.2 L673.4,1204.9 L670.2,1200.6 L668.1,1190Z"/>
<path class="l" d="M668.1,1190 C667.9,1189.3 666.8,1186.8 667,1185.7 C667.2,1184.6 668.3,1183.8 669.1,1183.6 C669.9,1183.4 671.4,1184.5 671.9,1184.7"/>
<circle class="t" cx="670.6" cy="1187.9" r="1"/>
<circle class="l" cx="692.6" cy="1198.5" r="2.2"/>
<path d="M674.5,1200 L664.9,1208.1 L661.3,1217.7 L658.5,1226.2 L648.9,1236.8 L631.9,1244.3 L616,1251.7" fill="none" stroke="#333" stroke-width="5.6" stroke-linejoin="round"/><path d="M674.5,1200 L664.9,1208.1 L661.3,1217.7 L658.5,1226.2 L648.9,1236.8 L631.9,1244.3 L616,1251.7" fill="none" stroke="#fff" stroke-width="3.8" stroke-linejoin="round"/>
<path class="l" d="M673.4,1204.9 L691.5,1203.2" style="stroke-dasharray:3 2"/>
<path class="w" d="M602.1,1254.3 L606.4,1252.1 L614.9,1252.8 L617.4,1258.1 L610.6,1262.8 L604.3,1261.3Z"/>
<circle class="l" cx="608.5" cy="1257.7" r="1.8"/>
<path class="w" d="M624.5,1252.8 L630.9,1254.3 L629.8,1259.1 L623.4,1258.1Z"/>
<path class="l" d="M624.5,1258.1 L616.6,1264"/>
<path class="l" d="M622.3,1254.9 L614.5,1261.3"/>
<ellipse class="w" cx="615.3" cy="1263.4" rx="1.6" ry="2.2" transform="rotate(40 615.3 1263.4)"/>
<circle cx="707.4" cy="1153.8" r="3" fill="#fff" stroke="#222" stroke-width="1.1"/>
<circle class="t" cx="707.4" cy="1153.8" r="1.4"/>
<path class="l" d="M704.3,1157.7 L702.1,1160.2"/>
<circle cx="684.7" cy="1176.2" r="3.2" fill="#fff" stroke="#222" stroke-width="1"/>
<circle cx="713.8" cy="1176.8" r="3" fill="#fff" stroke="#222" stroke-width="1"/>
<circle cx="652.8" cy="1194.3" r="3.6" fill="#fff" stroke="#222" stroke-width="1.1"/>
<circle class="t" cx="652.8" cy="1194.3" r="1.6"/>
<path class="l" d="M700,1188.9 L706.4,1186.2"/>
<path class="l" d="M698.9,1186.8 L705.3,1184.7"/>
<path class="d" d="M716,1175.1 L738.3,1156.4"/>
<path class="t" d="M697.9,1171.9 L704.3,1160.2"/>
<g transform="translate(690.4 1221.5)"><path d="M-3.5,-3.5 L2,-5 L4,-3 L3.5,4 L-1,5 Z" class="w"/><path d="M-5,1 L-1,-1 M-2,-3 L-1.5,4" class="k"/></g>
<g transform="translate(632.3 1281.5)"><path d="M-3.5,-3.5 L2,-5 L4,-3 L3.5,4 L-1,5 Z" class="w"/><path d="M-5,1 L-1,-1 M-2,-3 L-1.5,4" class="k"/></g>
<!-- labels -->
<text class="n" x="719.9" y="435.1" textLength="12" lengthAdjust="spacingAndGlyphs">31</text>
<path class="ld" d="M718.8,436.9 H741.8"/>
<path class="ld" d="M718.8,436.9 L649.6,559.2"/>
<text class="n" x="761.3" y="435.1" textLength="14.3" lengthAdjust="spacingAndGlyphs">30</text>
<path class="ld" d="M759.6,436.9 H776.2"/>
<path class="ld" d="M759.6,436.9 L697.5,568.1"/>
<text class="n" x="800.4" y="435.1" textLength="14.3" lengthAdjust="spacingAndGlyphs">29</text>
<path class="ld" d="M798.6,436.9 H816.3"/>
<path class="ld" d="M798.6,436.9 L736.5,605.3" stroke-dasharray="3 1.5"/>
<text class="n" x="841.1" y="435.1" textLength="14.3" lengthAdjust="spacingAndGlyphs">28</text>
<path class="ld" d="M838.3,436.9 H858.2"/>
<path class="ld" d="M838.3,436.9 L766.7,623" stroke-dasharray="3 1.5"/>
<text class="n" x="929.8" y="370.6" textLength="14.3" lengthAdjust="spacingAndGlyphs">27</text>
<path class="ld" d="M926.2,373 H945.7"/>
<path class="ld" d="M926.2,373 L917.4,426.2" stroke-dasharray="3 1.5"/>
<text class="n" x="951.1" y="394.3" textLength="14.3" lengthAdjust="spacingAndGlyphs">26</text>
<path class="ld" d="M951.1,398.9 H968.8"/>
<path class="ld" d="M951.1,398.9 L955.7,507.8"/>
<text class="n" x="981.2" y="394.3" textLength="14.3" lengthAdjust="spacingAndGlyphs">25</text>
<path class="ld" d="M981.2,398.9 H998.9"/>
<path class="ld" d="M981.2,398.9 L988.3,490.1"/>
<text class="n" x="921.5" y="592.2" textLength="11.5" lengthAdjust="spacingAndGlyphs">19</text>
<path class="ld" d="M920.9,594 H940.4"/>
<path class="ld" d="M920.9,594 L901.4,559.2"/>
<text class="n" x="923.4" y="627.7" textLength="14.3" lengthAdjust="spacingAndGlyphs">55</text>
<path class="ld" d="M922,629.4 H940.4"/>
<path class="ld" d="M922,629.4 L893.6,591.8"/>
<text class="n" x="639.7" y="705.7" textLength="14.3" lengthAdjust="spacingAndGlyphs">23</text>
<path class="ld" d="M637.2,707.4 H656"/>
<path class="ld" d="M637.2,707.4 L614.2,665.6"/>
<text class="n" x="669.1" y="705.7" textLength="14.3" lengthAdjust="spacingAndGlyphs">22</text>
<path class="ld" d="M668.1,707.4 H685.1"/>
<path class="ld" d="M668.1,707.4 L624.1,619.5"/>
<text class="n" x="702.8" y="705.7" textLength="14.3" lengthAdjust="spacingAndGlyphs">33</text>
<path class="ld" d="M701.1,707.4 H718.8"/>
<path class="ld" d="M701.1,707.4 L685.1,612.4" stroke-dasharray="3 1.5"/>
<text class="n" x="724.1" y="705.7" textLength="14.3" lengthAdjust="spacingAndGlyphs">20</text>
<path class="ld" d="M722.3,707.4 H740.1"/>
<path class="ld" d="M722.3,707.4 L716.3,658.5" stroke-dasharray="3 1.5"/>
<text class="n" x="966.5" y="696.8" textLength="11.5" lengthAdjust="spacingAndGlyphs">16</text>
<path class="ld" d="M965.2,699.3 H983"/>
<path class="ld" d="M965.2,699.3 L942.2,752.5"/>
<text class="n" x="994.3" y="701.1" textLength="14.3" lengthAdjust="spacingAndGlyphs">40</text>
<path class="ld" d="M992.9,702.8 H1011.3"/>
<path class="ld" d="M992.9,702.8 L961.7,763.1"/>
<text class="n" x="1018.4" y="701.1" textLength="14.3" lengthAdjust="spacingAndGlyphs">39</text>
<path class="ld" d="M1018.4,703.9 H1036.2"/>
<path class="ld" d="M1018.4,703.9 L945.7,803.9"/>
<text class="n" x="487.9" y="594.3" textLength="12" lengthAdjust="spacingAndGlyphs">51</text>
<path class="ld" d="M487.9,596.8 H505.7"/>
<path class="ld" d="M505.7,596.8 L579.4,694.3"/>
<text class="n" x="490.7" y="643.8" textLength="14.3" lengthAdjust="spacingAndGlyphs">53</text>
<path class="ld" d="M488.8,645.2 H504.1"/>
<path class="ld" d="M488.8,645.2 L425.6,677.3"/>
<text class="n" x="489.8" y="668.7" textLength="14.3" lengthAdjust="spacingAndGlyphs">54</text>
<path class="ld" d="M486.9,670.3 H504.1"/>
<path class="ld" d="M486.9,670.3 L484,765.4"/>
<text class="n" x="489.8" y="689.8" textLength="14.3" lengthAdjust="spacingAndGlyphs">55</text>
<path class="ld" d="M487.9,691.3 H504.1"/>
<path class="ld" d="M504.1,691.3 L531.6,719.1"/>
<text class="n" x="565.2" y="861.7" textLength="14.3" lengthAdjust="spacingAndGlyphs">62</text>
<path class="ld" d="M563.5,863.8 H581.2"/>
<path class="ld" d="M563.5,863.8 L528,822"/>
<text class="n" x="531.6" y="888.7" textLength="12" lengthAdjust="spacingAndGlyphs">61</text>
<path class="ld" d="M529.8,891.1 H547.5"/>
<path class="ld" d="M529.8,891.1 L440.8,927"/>
<text class="n" x="1154.8" y="828.3" textLength="11.5" lengthAdjust="spacingAndGlyphs">17</text>
<path class="ld" d="M1153.2,829.8 H1170.2"/>
<path class="ld" d="M1153.2,829.8 L1085.1,794.9"/>
<text class="n" x="1151.6" y="862.3" textLength="9" lengthAdjust="spacingAndGlyphs">11</text>
<path class="ld" d="M1151.1,866 H1167"/>
<path class="ld" d="M1151.1,866 L1123.4,867"/>
<text class="n" x="1152.7" y="893.2" textLength="11.5" lengthAdjust="spacingAndGlyphs">10</text>
<path class="ld" d="M1151.1,898.5 H1169.1"/>
<path class="ld" d="M1151.1,898.5 L1116,873.6"/>
<text class="n" x="1157.4" y="924" textLength="6" lengthAdjust="spacingAndGlyphs">9</text>
<path class="ld" d="M1154.3,928.3 H1170.2"/>
<path class="ld" d="M1154.3,928.3 L1104.3,879.4"/>
<text class="n" x="1158.5" y="951.7" textLength="6" lengthAdjust="spacingAndGlyphs">8</text>
<path class="ld" d="M1157.4,956 H1171.3"/>
<path class="ld" d="M1157.4,956 L1078.7,903.8"/>
<text class="n" x="1155.3" y="975.1" textLength="12" lengthAdjust="spacingAndGlyphs">21</text>
<path class="ld" d="M1154.3,977.2 H1171.3"/>
<path class="ld" d="M1154.3,977.2 L1073.4,958.1" stroke-dasharray="3 1.5"/>
<text class="n" x="1154.8" y="997.4" textLength="11.5" lengthAdjust="spacingAndGlyphs">18</text>
<path class="ld" d="M1154.3,999.6 H1171.3"/>
<path class="ld" d="M1154.3,999.6 L1046.2,962.3" stroke-dasharray="3 1.5"/>
<text class="n" x="1156.4" y="1078.4" textLength="6" lengthAdjust="spacingAndGlyphs">5</text>
<path class="ld" d="M1149.3,1080.1 H1167"/>
<path class="ld" d="M1149.3,1080.1 L980.9,1038.7" stroke-dasharray="3 1.5"/>
<text class="n" x="1154.6" y="1118.4" textLength="6.6" lengthAdjust="spacingAndGlyphs">4</text>
<path class="ld" d="M1149.3,1120.2 H1167"/>
<path class="ld" d="M1149.3,1120.2 L1053.5,1093.6" stroke-dasharray="3 1.5"/>
<text class="n" x="1156.4" y="1149.3" textLength="6" lengthAdjust="spacingAndGlyphs">3</text>
<path class="ld" d="M1149.3,1151.1 H1167"/>
<path class="ld" d="M1149.3,1151.1 L989.7,1136.9" stroke-dasharray="3 1.5"/>
<text class="n" x="1156.4" y="1185.8" textLength="6" lengthAdjust="spacingAndGlyphs">2</text>
<path class="ld" d="M1149.3,1188.3 H1167"/>
<path class="ld" d="M1149.3,1188.3 L991.5,1175.9" stroke-dasharray="3 1.5"/>
<text class="n" x="1155.4" y="1221.3" textLength="5" lengthAdjust="spacingAndGlyphs">1</text>
<path class="ld" d="M1149.3,1222.3 H1167"/>
<path class="ld" d="M1149.3,1222.3 L977.3,1225.9"/>
<text class="n" x="943.6" y="996.1" textLength="14.3" lengthAdjust="spacingAndGlyphs">38</text>
<path class="ld" d="M941.8,999.6 H957.8"/>
<path class="ld" d="M941.8,999.6 L922.3,957.1"/>
<text class="n" x="835.5" y="1180.5" textLength="14.3" lengthAdjust="spacingAndGlyphs">52</text>
<path class="ld" d="M835.5,1183 H852.5"/>
<path class="ld" d="M835.5,1183 L810.6,1114.9"/>
<text class="n" x="832.6" y="1223" textLength="14.3" lengthAdjust="spacingAndGlyphs">56</text>
<path class="ld" d="M831.9,1224.8 H848.9"/>
<path class="ld" d="M831.9,1224.8 L783.4,1151.3"/>
<text class="n" x="1174.6" y="514.3" textLength="11.5" lengthAdjust="spacingAndGlyphs">15</text>
<path class="ld" d="M1171.9,515.3 H1188.5"/>
<path class="ld" d="M1171.9,515.3 L1129.8,488.1"/>
<text class="n" x="1190.3" y="731.2" textLength="11.5" lengthAdjust="spacingAndGlyphs">12</text>
<path class="ld" d="M1186.5,733.7 H1205"/>
<path class="ld" d="M1186.5,733.7 L1119.9,699.3"/>
<text class="n" x="304.5" y="1064.7" textLength="14.3" lengthAdjust="spacingAndGlyphs">65</text>
<path class="ld" d="M303.8,1066.4 H320.9"/>
<path class="ld" d="M320.9,1066.4 L404.9,1160.4"/>
<text class="n" x="347.4" y="1064.7" textLength="14.3" lengthAdjust="spacingAndGlyphs">64</text>
<path class="ld" d="M347,1066.4 H364"/>
<path class="ld" d="M364,1066.4 L426.2,1136"/>
<text class="n" x="383.2" y="1064.7" textLength="14.3" lengthAdjust="spacingAndGlyphs">63</text>
<path class="ld" d="M382.6,1066.4 H400.2"/>
<path class="ld" d="M400.2,1066.4 L460.2,1113.6"/>
<text class="n" x="490" y="1244.5" textLength="14.3" lengthAdjust="spacingAndGlyphs">60</text>
<path class="ld" d="M488.9,1246 H507"/>
<path class="ld" d="M488.9,1246 L466.6,1186"/>
<text class="n" x="491.1" y="1264.7" textLength="14.3" lengthAdjust="spacingAndGlyphs">68</text>
<path class="ld" d="M490,1266.4 H507"/>
<path class="ld" d="M490,1266.4 L436.8,1230.6"/>
<text class="n" x="491.1" y="1291.3" textLength="14.3" lengthAdjust="spacingAndGlyphs">66</text>
<path class="ld" d="M490,1292.8 H507"/>
<path class="ld" d="M490,1292.8 L436.8,1274.3" stroke-dasharray="3 1.5"/>
<text class="n" x="533.6" y="1244.5" textLength="6" lengthAdjust="spacingAndGlyphs">6</text>
<path class="ld" d="M530.4,1247.2 H545.3"/>
<path class="ld" d="M530.4,1247.2 L500.6,1168.9" stroke-dasharray="3 1.5"/>
<text class="n" x="574" y="1244.5" textLength="6" lengthAdjust="spacingAndGlyphs">7</text>
<path class="ld" d="M568.7,1247.2 H585.7"/>
<path class="ld" d="M568.7,1247.2 L536.8,1122.1" stroke-dasharray="3 1.5"/>
<text class="n" x="581.9" y="1204.9" textLength="14.3" lengthAdjust="spacingAndGlyphs">67</text>
<path class="ld" d="M580.9,1207 H597.9"/>
<path class="ld" d="M597.9,1207 L619.1,1145.3" stroke-dasharray="3 1.5"/>
<text class="n" x="748.9" y="1266.6" textLength="14.3" lengthAdjust="spacingAndGlyphs">35</text>
<path class="ld" d="M747.9,1267.7 H764.9"/>
<path class="ld" d="M747.9,1267.7 L687.2,1178.3"/>
<text class="n" x="748.9" y="1296.4" textLength="14.3" lengthAdjust="spacingAndGlyphs">46</text>
<path class="ld" d="M747.9,1297.4 H764.9"/>
<path class="ld" d="M747.9,1297.4 L692.6,1223"/>
<text class="n" x="748.9" y="1330.4" textLength="14.9" lengthAdjust="spacingAndGlyphs">44</text>
<path class="ld" d="M747.9,1332.6 H765.5"/>
<path class="ld" d="M747.9,1332.6 L648.9,1241.5"/>
<text class="n" x="482.1" y="947.9" textLength="11.5" lengthAdjust="spacingAndGlyphs">13</text>
<path class="ld" d="M480.9,951.4 H496.8"/>
<path class="ld" d="M480.9,951.4 L464.9,1033"/>
<text class="n" x="506.9" y="947.9" textLength="12" lengthAdjust="spacingAndGlyphs">14</text>
<path class="ld" d="M505.7,951.4 H521.6"/>
<path class="ld" d="M505.7,951.4 L493.3,1015.2" stroke-dasharray="3 1.5"/>
<text class="n" x="528.7" y="947.9" textLength="12" lengthAdjust="spacingAndGlyphs">41</text>
<path class="ld" d="M527,951.4 H544"/>
<path class="ld" d="M527,951.4 L511,1027.7" stroke-dasharray="3 1.5"/>
<text class="n" x="574.8" y="947.9" textLength="14.3" lengthAdjust="spacingAndGlyphs">58</text>
<path class="ld" d="M573,951.4 H589"/>
<path class="ld" d="M573,951.4 L570.2,1093.3"/>
<text class="n" x="600.7" y="947.9" textLength="14.3" lengthAdjust="spacingAndGlyphs">57</text>
<path class="ld" d="M599.6,951.4 H615.6"/>
<path class="ld" d="M599.6,951.4 L658.2,1015.2"/>
<text class="n" x="633.3" y="947.9" textLength="14.3" lengthAdjust="spacingAndGlyphs">42</text>
<path class="ld" d="M631.6,951.4 H649.3"/>
<path class="ld" d="M631.6,951.4 L667,979.8"/>
<path class="d" d="M972.3,802.8 V1203" stroke-width="1.1"/>
<path class="d" d="M1045,542 V748"/>
</svg></body></html>
